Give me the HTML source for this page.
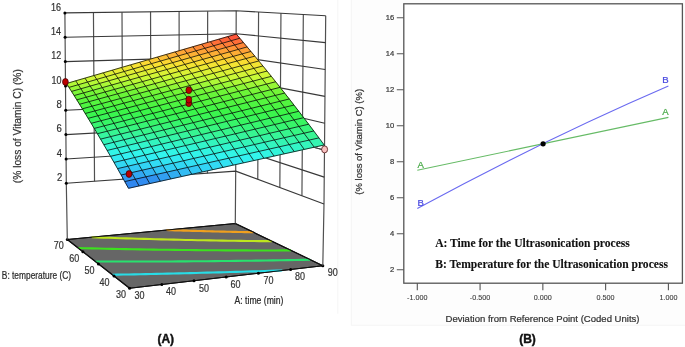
<!DOCTYPE html>
<html><head><meta charset="utf-8"><style>
html,body{margin:0;padding:0;background:#fff;}
body{width:685px;height:347px;position:relative;overflow:hidden;font-family:"Liberation Sans",sans-serif;}
</style></head><body>
<svg width="685" height="347" viewBox="0 0 685 347" style="position:absolute;left:0;top:0;will-change:transform">
<path d="M337.8,0 V313.8" stroke="#f6f6f6" stroke-width="1"/>
<rect x="351.3" y="-1" width="335" height="326.3" fill="#fdfdfd" stroke="#f5f5f5" stroke-width="1"/>
<polygon points="67.3,239.5 235.3,223.5 322.8,265.7 129.6,288.3" fill="#666666" stroke="#111" stroke-width="1.1" stroke-linejoin="round"/>
<path d="M112.31,274.76 L117.8,274.66 L123.3,274.56 L128.81,274.46 L134.33,274.35 L139.86,274.24 L145.41,274.13 L150.97,274.01 L156.54,273.89 L162.13,273.77 L167.72,273.64 L173.33,273.51 L178.95,273.38 L184.59,273.24 L190.23,273.11 L195.89,272.96 L201.56,272.82 L207.24,272.67 L212.94,272.52 L218.64,272.36 L224.36,272.2 L230.09,272.04 L235.84,271.88 L241.59,271.71 L247.36,271.54 L253.14,271.37 L258.93,271.19 L264.74,271.01 L270.56,270.82 L276.39,270.64 L282.23,270.45" fill="none" stroke="#28dce6" stroke-width="2.1"/>
<path d="M95.34,261.46 L102.17,261.49 L109.03,261.51 L115.91,261.52 L122.81,261.53 L129.74,261.54 L136.69,261.54 L143.66,261.53 L150.66,261.51 L157.68,261.49 L164.72,261.47 L171.78,261.43 L178.87,261.4 L185.98,261.35 L193.11,261.3 L200.27,261.25 L207.44,261.18 L214.64,261.12 L221.87,261.04 L229.11,260.96 L236.38,260.88 L243.68,260.78 L250.99,260.69 L258.33,260.58 L265.69,260.47 L273.07,260.36 L280.48,260.23 L287.91,260.11 L295.36,259.97 L302.83,259.83 L310.33,259.69" fill="none" stroke="#28e16e" stroke-width="2.1"/>
<path d="M78.2,248.04 L84.92,248.22 L91.67,248.39 L98.44,248.55 L105.24,248.71 L112.06,248.86 L118.91,249 L125.79,249.14 L132.69,249.27 L139.62,249.39 L146.57,249.51 L153.55,249.62 L160.56,249.72 L167.59,249.81 L174.65,249.9 L181.73,249.98 L188.84,250.06 L195.97,250.13 L203.13,250.19 L210.32,250.25 L217.53,250.29 L224.77,250.33 L232.03,250.37 L239.32,250.4 L246.64,250.42 L253.98,250.43 L261.35,250.44 L268.74,250.44 L276.16,250.43 L283.61,250.42 L291.08,250.4" fill="none" stroke="#3ce11e" stroke-width="2.1"/>
<path d="M91.66,237.18 L97.38,237.39 L103.12,237.6 L108.88,237.8 L114.67,237.99 L120.47,238.18 L126.29,238.37 L132.13,238.55 L137.99,238.72 L143.88,238.89 L149.78,239.05 L155.7,239.21 L161.64,239.37 L167.61,239.51 L173.59,239.66 L179.59,239.79 L185.62,239.93 L191.66,240.05 L197.72,240.18 L203.81,240.29 L209.91,240.4 L216.03,240.51 L222.18,240.61 L228.34,240.7 L234.52,240.79 L240.73,240.88 L246.95,240.96 L253.2,241.03 L259.46,241.1 L265.75,241.17 L272.05,241.22" fill="none" stroke="#bee61e" stroke-width="2.1"/>
<path d="M166.42,230.06 L169.25,230.15 L172.09,230.24 L174.93,230.33 L177.78,230.42 L180.63,230.5 L183.48,230.59 L186.34,230.67 L189.21,230.76 L192.08,230.84 L194.96,230.92 L197.84,231 L200.72,231.07 L203.61,231.15 L206.5,231.22 L209.4,231.3 L212.31,231.37 L215.21,231.44 L218.13,231.51 L221.05,231.58 L223.97,231.65 L226.9,231.72 L229.83,231.78 L232.76,231.84 L235.71,231.91 L238.65,231.97 L241.6,232.03 L244.56,232.09 L247.52,232.15 L250.49,232.2 L253.46,232.26" fill="none" stroke="#f0a01e" stroke-width="2.1"/>
<polygon points="67.3,239.5 235.3,223.5 322.8,265.7 129.6,288.3" fill="none" stroke="#111" stroke-width="1.1" stroke-linejoin="round"/>
<circle cx="129.6" cy="288.3" r="1.5" fill="#000"/>
<circle cx="161.8" cy="284.53" r="1.5" fill="#000"/>
<circle cx="194" cy="280.77" r="1.5" fill="#000"/>
<circle cx="226.2" cy="277" r="1.5" fill="#000"/>
<circle cx="258.4" cy="273.23" r="1.5" fill="#000"/>
<circle cx="290.6" cy="269.47" r="1.5" fill="#000"/>
<circle cx="322.8" cy="265.7" r="1.5" fill="#000"/>
<circle cx="114.02" cy="276.1" r="1.5" fill="#000"/>
<circle cx="98.45" cy="263.9" r="1.5" fill="#000"/>
<circle cx="82.88" cy="251.7" r="1.5" fill="#000"/>
<circle cx="67.3" cy="239.5" r="1.5" fill="#000"/>
<path d="M64.9,12.9 L66.3,183.3 M93.45,12.55 L94.53,181.27 M122,12.2 L122.77,179.23 M150.55,11.85 L151,177.2 M179.1,11.5 L179.23,175.17 M207.65,11.15 L207.47,173.13 M236.2,10.8 L235.7,171.1 M325.7,15.7 L324,204 M303.32,14.47 L301.93,195.78 M280.95,13.25 L279.85,187.55 M258.57,12.03 L257.77,179.32 M66.3,183.3 L67.3,239.5 M235.7,171.1 L235.3,223.5 M324,204 L322.8,265.7" fill="none" stroke="#505050" stroke-width="1.2"/>
<path d="M66.3,183.3 L235.7,171.1 M66.1,158.96 L235.77,148.2 M65.9,134.61 L235.84,125.3 M65.7,110.27 L235.91,102.4 M65.5,85.93 L235.99,79.5 M65.3,61.59 L236.06,56.6 M65.1,37.24 L236.13,33.7 M64.9,12.9 L236.2,10.8 M235.7,171.1 L324,204 M235.77,148.2 L324.24,177.1 M235.84,125.3 L324.49,150.2 M235.91,102.4 L324.73,123.3 M235.99,79.5 L324.97,96.4 M236.06,56.6 L325.21,69.5 M236.13,33.7 L325.46,42.6 M236.2,10.8 L325.7,15.7" fill="none" stroke="#383838" stroke-width="1.15"/>
<circle cx="66.3" cy="183.3" r="1.5" fill="#000"/>
<circle cx="66.1" cy="158.96" r="1.5" fill="#000"/>
<circle cx="65.9" cy="134.61" r="1.5" fill="#000"/>
<circle cx="65.7" cy="110.27" r="1.5" fill="#000"/>
<circle cx="65.5" cy="85.93" r="1.5" fill="#000"/>
<circle cx="65.3" cy="61.59" r="1.5" fill="#000"/>
<circle cx="65.1" cy="37.24" r="1.5" fill="#000"/>
<circle cx="64.9" cy="12.9" r="1.5" fill="#000"/>
<g stroke-width="0.6" stroke-linejoin="round"><polygon points="66.5,83.5 75.74,80.81 78.28,84.71 68.98,87.39" fill="rgb(179, 249, 55)" stroke="rgb(179, 249, 55)"/><polygon points="68.98,87.39 78.28,84.71 80.89,88.75 71.53,91.41" fill="rgb(152, 247, 55)" stroke="rgb(152, 247, 55)"/><polygon points="71.53,91.41 80.89,88.75 83.56,92.91 74.14,95.56" fill="rgb(124, 246, 55)" stroke="rgb(124, 246, 55)"/><polygon points="74.14,95.56 83.56,92.91 86.3,97.2 76.82,99.84" fill="rgb(104, 245, 57)" stroke="rgb(104, 245, 57)"/><polygon points="76.82,99.84 86.3,97.2 89.11,101.63 79.56,104.25" fill="rgb(91, 245, 61)" stroke="rgb(91, 245, 61)"/><polygon points="79.56,104.25 89.11,101.63 91.98,106.2 82.37,108.81" fill="rgb(78, 245, 65)" stroke="rgb(78, 245, 65)"/><polygon points="82.37,108.81 91.98,106.2 94.92,110.91 85.25,113.5" fill="rgb(65, 245, 69)" stroke="rgb(65, 245, 69)"/><polygon points="85.25,113.5 94.92,110.91 97.92,115.76 88.18,118.33" fill="rgb(58, 245, 79)" stroke="rgb(58, 245, 79)"/><polygon points="88.18,118.33 97.92,115.76 100.99,120.75 91.19,123.31" fill="rgb(56, 245, 93)" stroke="rgb(56, 245, 93)"/><polygon points="91.19,123.31 100.99,120.75 104.13,125.89 94.25,128.43" fill="rgb(55, 245, 112)" stroke="rgb(55, 245, 112)"/><polygon points="94.25,128.43 104.13,125.89 107.33,131.18 97.39,133.71" fill="rgb(55, 245, 135)" stroke="rgb(55, 245, 135)"/><polygon points="97.39,133.71 107.33,131.18 110.6,136.62 100.58,139.13" fill="rgb(54, 245, 159)" stroke="rgb(54, 245, 159)"/><polygon points="100.58,139.13 110.6,136.62 113.94,142.22 103.85,144.71" fill="rgb(52, 245, 184)" stroke="rgb(52, 245, 184)"/><polygon points="103.85,144.71 113.94,142.22 117.34,147.97 107.17,150.44" fill="rgb(50, 245, 210)" stroke="rgb(50, 245, 210)"/><polygon points="107.17,150.44 117.34,147.97 120.81,153.89 110.56,156.34" fill="rgb(50, 245, 232)" stroke="rgb(50, 245, 232)"/><polygon points="110.56,156.34 120.81,153.89 124.35,159.96 114.02,162.4" fill="rgb(50, 234, 242)" stroke="rgb(50, 234, 242)"/><polygon points="114.02,162.4 124.35,159.96 127.95,166.2 117.54,168.62" fill="rgb(50, 216, 244)" stroke="rgb(50, 216, 244)"/><polygon points="117.54,168.62 127.95,166.2 131.62,172.61 121.13,175.01" fill="rgb(50, 188, 243)" stroke="rgb(50, 188, 243)"/><polygon points="121.13,175.01 131.62,172.61 135.35,179.19 124.78,181.57" fill="rgb(50, 154, 241)" stroke="rgb(50, 154, 241)"/><polygon points="124.78,181.57 135.35,179.19 139.15,185.94 128.5,188.3" fill="rgb(47, 135, 240)" stroke="rgb(47, 135, 240)"/><polygon points="75.74,80.81 84.95,78.13 87.55,82.05 78.28,84.71" fill="rgb(194, 250, 55)" stroke="rgb(194, 250, 55)"/><polygon points="78.28,84.71 87.55,82.05 90.21,86.09 80.89,88.75" fill="rgb(167, 248, 55)" stroke="rgb(167, 248, 55)"/><polygon points="80.89,88.75 90.21,86.09 92.94,90.27 83.56,92.91" fill="rgb(140, 247, 55)" stroke="rgb(140, 247, 55)"/><polygon points="83.56,92.91 92.94,90.27 95.74,94.58 86.3,97.2" fill="rgb(112, 245, 55)" stroke="rgb(112, 245, 55)"/><polygon points="86.3,97.2 95.74,94.58 98.61,99.02 89.11,101.63" fill="rgb(98, 245, 59)" stroke="rgb(98, 245, 59)"/><polygon points="89.11,101.63 98.61,99.02 101.55,103.61 91.98,106.2" fill="rgb(85, 245, 63)" stroke="rgb(85, 245, 63)"/><polygon points="91.98,106.2 101.55,103.61 104.55,108.33 94.92,110.91" fill="rgb(72, 245, 67)" stroke="rgb(72, 245, 67)"/><polygon points="94.92,110.91 104.55,108.33 107.62,113.19 97.92,115.76" fill="rgb(60, 245, 72)" stroke="rgb(60, 245, 72)"/><polygon points="97.92,115.76 107.62,113.19 110.76,118.2 100.99,120.75" fill="rgb(57, 245, 86)" stroke="rgb(57, 245, 86)"/><polygon points="100.99,120.75 110.76,118.2 113.97,123.36 104.13,125.89" fill="rgb(55, 245, 102)" stroke="rgb(55, 245, 102)"/><polygon points="104.13,125.89 113.97,123.36 117.24,128.67 107.33,131.18" fill="rgb(55, 245, 124)" stroke="rgb(55, 245, 124)"/><polygon points="107.33,131.18 117.24,128.67 120.58,134.13 110.6,136.62" fill="rgb(55, 245, 147)" stroke="rgb(55, 245, 147)"/><polygon points="110.6,136.62 120.58,134.13 123.99,139.74 113.94,142.22" fill="rgb(53, 245, 173)" stroke="rgb(53, 245, 173)"/><polygon points="113.94,142.22 123.99,139.74 127.47,145.51 117.34,147.97" fill="rgb(51, 245, 199)" stroke="rgb(51, 245, 199)"/><polygon points="117.34,147.97 127.47,145.51 131.02,151.44 120.81,153.89" fill="rgb(50, 245, 222)" stroke="rgb(50, 245, 222)"/><polygon points="120.81,153.89 131.02,151.44 134.63,157.53 124.35,159.96" fill="rgb(50, 241, 241)" stroke="rgb(50, 241, 241)"/><polygon points="124.35,159.96 134.63,157.53 138.32,163.79 127.95,166.2" fill="rgb(50, 224, 243)" stroke="rgb(50, 224, 243)"/><polygon points="127.95,166.2 138.32,163.79 142.07,170.22 131.62,172.61" fill="rgb(50, 202, 244)" stroke="rgb(50, 202, 244)"/><polygon points="131.62,172.61 142.07,170.22 145.88,176.82 135.35,179.19" fill="rgb(50, 168, 242)" stroke="rgb(50, 168, 242)"/><polygon points="135.35,179.19 145.88,176.82 149.77,183.59 139.15,185.94" fill="rgb(49, 140, 240)" stroke="rgb(49, 140, 240)"/><polygon points="84.95,78.13 94.13,75.46 96.78,79.39 87.55,82.05" fill="rgb(205, 247, 54)" stroke="rgb(205, 247, 54)"/><polygon points="87.55,82.05 96.78,79.39 99.5,83.45 90.21,86.09" fill="rgb(183, 249, 55)" stroke="rgb(183, 249, 55)"/><polygon points="90.21,86.09 99.5,83.45 102.29,87.64 92.94,90.27" fill="rgb(155, 248, 55)" stroke="rgb(155, 248, 55)"/><polygon points="92.94,90.27 102.29,87.64 105.15,91.96 95.74,94.58" fill="rgb(127, 246, 55)" stroke="rgb(127, 246, 55)"/><polygon points="95.74,94.58 105.15,91.96 108.08,96.42 98.61,99.02" fill="rgb(105, 245, 57)" stroke="rgb(105, 245, 57)"/><polygon points="98.61,99.02 108.08,96.42 111.08,101.02 101.55,103.61" fill="rgb(92, 245, 60)" stroke="rgb(92, 245, 60)"/><polygon points="101.55,103.61 111.08,101.02 114.15,105.76 104.55,108.33" fill="rgb(78, 245, 64)" stroke="rgb(78, 245, 64)"/><polygon points="104.55,108.33 114.15,105.76 117.29,110.64 107.62,113.19" fill="rgb(65, 245, 69)" stroke="rgb(65, 245, 69)"/><polygon points="107.62,113.19 117.29,110.64 120.49,115.67 110.76,118.2" fill="rgb(58, 245, 79)" stroke="rgb(58, 245, 79)"/><polygon points="110.76,118.2 120.49,115.67 123.77,120.84 113.97,123.36" fill="rgb(56, 245, 94)" stroke="rgb(56, 245, 94)"/><polygon points="113.97,123.36 123.77,120.84 127.11,126.16 117.24,128.67" fill="rgb(55, 245, 114)" stroke="rgb(55, 245, 114)"/><polygon points="117.24,128.67 127.11,126.16 130.53,131.64 120.58,134.13" fill="rgb(55, 245, 137)" stroke="rgb(55, 245, 137)"/><polygon points="120.58,134.13 130.53,131.64 134.01,137.27 123.99,139.74" fill="rgb(54, 245, 161)" stroke="rgb(54, 245, 161)"/><polygon points="123.99,139.74 134.01,137.27 137.57,143.06 127.47,145.51" fill="rgb(52, 245, 187)" stroke="rgb(52, 245, 187)"/><polygon points="127.47,145.51 137.57,143.06 141.19,149.01 131.02,151.44" fill="rgb(50, 245, 213)" stroke="rgb(50, 245, 213)"/><polygon points="131.02,151.44 141.19,149.01 144.88,155.12 134.63,157.53" fill="rgb(50, 245, 235)" stroke="rgb(50, 245, 235)"/><polygon points="134.63,157.53 144.88,155.12 148.64,161.4 138.32,163.79" fill="rgb(50, 231, 242)" stroke="rgb(50, 231, 242)"/><polygon points="138.32,163.79 148.64,161.4 152.47,167.84 142.07,170.22" fill="rgb(50, 213, 245)" stroke="rgb(50, 213, 245)"/><polygon points="142.07,170.22 152.47,167.84 156.37,174.46 145.88,176.82" fill="rgb(50, 181, 243)" stroke="rgb(50, 181, 243)"/><polygon points="145.88,176.82 156.37,174.46 160.34,181.25 149.77,183.59" fill="rgb(50, 147, 240)" stroke="rgb(50, 147, 240)"/><polygon points="94.13,75.46 103.27,72.8 105.98,76.74 96.78,79.39" fill="rgb(214, 243, 54)" stroke="rgb(214, 243, 54)"/><polygon points="96.78,79.39 105.98,76.74 108.76,80.82 99.5,83.45" fill="rgb(198, 250, 55)" stroke="rgb(198, 250, 55)"/><polygon points="99.5,83.45 108.76,80.82 111.61,85.02 102.29,87.64" fill="rgb(171, 248, 55)" stroke="rgb(171, 248, 55)"/><polygon points="102.29,87.64 111.61,85.02 114.53,89.36 105.15,91.96" fill="rgb(143, 247, 55)" stroke="rgb(143, 247, 55)"/><polygon points="105.15,91.96 114.53,89.36 117.52,93.83 108.08,96.42" fill="rgb(114, 245, 55)" stroke="rgb(114, 245, 55)"/><polygon points="108.08,96.42 117.52,93.83 120.58,98.45 111.08,101.02" fill="rgb(99, 245, 58)" stroke="rgb(99, 245, 58)"/><polygon points="111.08,101.02 120.58,98.45 123.71,103.2 114.15,105.76" fill="rgb(85, 245, 62)" stroke="rgb(85, 245, 62)"/><polygon points="114.15,105.76 123.71,103.2 126.92,108.1 117.29,110.64" fill="rgb(72, 245, 67)" stroke="rgb(72, 245, 67)"/><polygon points="117.29,110.64 126.92,108.1 130.19,113.14 120.49,115.67" fill="rgb(60, 245, 72)" stroke="rgb(60, 245, 72)"/><polygon points="120.49,115.67 130.19,113.14 133.53,118.33 123.77,120.84" fill="rgb(57, 245, 87)" stroke="rgb(57, 245, 87)"/><polygon points="123.77,120.84 133.53,118.33 136.95,123.67 127.11,126.16" fill="rgb(55, 245, 103)" stroke="rgb(55, 245, 103)"/><polygon points="127.11,126.16 136.95,123.67 140.44,129.16 130.53,131.64" fill="rgb(55, 245, 126)" stroke="rgb(55, 245, 126)"/><polygon points="130.53,131.64 140.44,129.16 143.99,134.81 134.01,137.27" fill="rgb(55, 245, 150)" stroke="rgb(55, 245, 150)"/><polygon points="134.01,137.27 143.99,134.81 147.62,140.61 137.57,143.06" fill="rgb(53, 245, 176)" stroke="rgb(53, 245, 176)"/><polygon points="137.57,143.06 147.62,140.61 151.32,146.58 141.19,149.01" fill="rgb(50, 245, 203)" stroke="rgb(50, 245, 203)"/><polygon points="141.19,149.01 151.32,146.58 155.09,152.71 144.88,155.12" fill="rgb(50, 245, 226)" stroke="rgb(50, 245, 226)"/><polygon points="144.88,155.12 155.09,152.71 158.93,159.01 148.64,161.4" fill="rgb(50, 238, 241)" stroke="rgb(50, 238, 241)"/><polygon points="148.64,161.4 158.93,159.01 162.84,165.47 152.47,167.84" fill="rgb(50, 220, 244)" stroke="rgb(50, 220, 244)"/><polygon points="152.47,167.84 162.84,165.47 166.83,172.11 156.37,174.46" fill="rgb(50, 195, 244)" stroke="rgb(50, 195, 244)"/><polygon points="156.37,174.46 166.83,172.11 170.88,178.92 160.34,181.25" fill="rgb(50, 160, 241)" stroke="rgb(50, 160, 241)"/><polygon points="103.27,72.8 112.38,70.15 115.14,74.11 105.98,76.74" fill="rgb(223, 239, 53)" stroke="rgb(223, 239, 53)"/><polygon points="105.98,76.74 115.14,74.11 117.98,78.19 108.76,80.82" fill="rgb(208, 246, 54)" stroke="rgb(208, 246, 54)"/><polygon points="108.76,80.82 117.98,78.19 120.89,82.41 111.61,85.02" fill="rgb(186, 249, 55)" stroke="rgb(186, 249, 55)"/><polygon points="111.61,85.02 120.89,82.41 123.87,86.76 114.53,89.36" fill="rgb(158, 248, 55)" stroke="rgb(158, 248, 55)"/><polygon points="114.53,89.36 123.87,86.76 126.92,91.25 117.52,93.83" fill="rgb(129, 246, 55)" stroke="rgb(129, 246, 55)"/><polygon points="117.52,93.83 126.92,91.25 130.04,95.88 120.58,98.45" fill="rgb(105, 245, 56)" stroke="rgb(105, 245, 56)"/><polygon points="120.58,98.45 130.04,95.88 133.24,100.65 123.71,103.2" fill="rgb(92, 245, 60)" stroke="rgb(92, 245, 60)"/><polygon points="123.71,103.2 133.24,100.65 136.51,105.56 126.92,108.1" fill="rgb(78, 245, 64)" stroke="rgb(78, 245, 64)"/><polygon points="126.92,108.1 136.51,105.56 139.85,110.62 130.19,113.14" fill="rgb(64, 245, 69)" stroke="rgb(64, 245, 69)"/><polygon points="130.19,113.14 139.85,110.62 143.26,115.82 133.53,118.33" fill="rgb(58, 245, 80)" stroke="rgb(58, 245, 80)"/><polygon points="133.53,118.33 143.26,115.82 146.75,121.18 136.95,123.67" fill="rgb(56, 245, 95)" stroke="rgb(56, 245, 95)"/><polygon points="136.95,123.67 146.75,121.18 150.31,126.69 140.44,129.16" fill="rgb(55, 245, 116)" stroke="rgb(55, 245, 116)"/><polygon points="140.44,129.16 150.31,126.69 153.94,132.35 143.99,134.81" fill="rgb(55, 245, 139)" stroke="rgb(55, 245, 139)"/><polygon points="143.99,134.81 153.94,132.35 157.64,138.18 147.62,140.61" fill="rgb(54, 245, 165)" stroke="rgb(54, 245, 165)"/><polygon points="147.62,140.61 157.64,138.18 161.42,144.16 151.32,146.58" fill="rgb(51, 245, 191)" stroke="rgb(51, 245, 191)"/><polygon points="151.32,146.58 161.42,144.16 165.26,150.31 155.09,152.71" fill="rgb(50, 245, 216)" stroke="rgb(50, 245, 216)"/><polygon points="155.09,152.71 165.26,150.31 169.18,156.63 158.93,159.01" fill="rgb(50, 245, 239)" stroke="rgb(50, 245, 239)"/><polygon points="158.93,159.01 169.18,156.63 173.18,163.11 162.84,165.47" fill="rgb(50, 228, 242)" stroke="rgb(50, 228, 242)"/><polygon points="162.84,165.47 173.18,163.11 177.24,169.77 166.83,172.11" fill="rgb(50, 208, 245)" stroke="rgb(50, 208, 245)"/><polygon points="166.83,172.11 177.24,169.77 181.38,176.6 170.88,178.92" fill="rgb(50, 174, 242)" stroke="rgb(50, 174, 242)"/><polygon points="112.38,70.15 121.45,67.51 124.27,71.48 115.14,74.11" fill="rgb(231, 234, 52)" stroke="rgb(231, 234, 52)"/><polygon points="115.14,74.11 124.27,71.48 127.16,75.58 117.98,78.19" fill="rgb(216, 242, 53)" stroke="rgb(216, 242, 53)"/><polygon points="117.98,78.19 127.16,75.58 130.13,79.81 120.89,82.41" fill="rgb(201, 250, 55)" stroke="rgb(201, 250, 55)"/><polygon points="120.89,82.41 130.13,79.81 133.17,84.18 123.87,86.76" fill="rgb(173, 249, 55)" stroke="rgb(173, 249, 55)"/><polygon points="123.87,86.76 133.17,84.18 136.28,88.68 126.92,91.25" fill="rgb(144, 247, 55)" stroke="rgb(144, 247, 55)"/><polygon points="126.92,91.25 136.28,88.68 139.47,93.32 130.04,95.88" fill="rgb(115, 245, 55)" stroke="rgb(115, 245, 55)"/><polygon points="130.04,95.88 139.47,93.32 142.73,98.11 133.24,100.65" fill="rgb(99, 245, 58)" stroke="rgb(99, 245, 58)"/><polygon points="133.24,100.65 142.73,98.11 146.07,103.03 136.51,105.56" fill="rgb(85, 245, 62)" stroke="rgb(85, 245, 62)"/><polygon points="136.51,105.56 146.07,103.03 149.47,108.11 139.85,110.62" fill="rgb(71, 245, 67)" stroke="rgb(71, 245, 67)"/><polygon points="139.85,110.62 149.47,108.11 152.96,113.33 143.26,115.82" fill="rgb(59, 245, 73)" stroke="rgb(59, 245, 73)"/><polygon points="143.26,115.82 152.96,113.33 156.51,118.7 146.75,121.18" fill="rgb(57, 245, 88)" stroke="rgb(57, 245, 88)"/><polygon points="146.75,121.18 156.51,118.7 160.14,124.23 150.31,126.69" fill="rgb(55, 245, 105)" stroke="rgb(55, 245, 105)"/><polygon points="150.31,126.69 160.14,124.23 163.85,129.91 153.94,132.35" fill="rgb(55, 245, 129)" stroke="rgb(55, 245, 129)"/><polygon points="153.94,132.35 163.85,129.91 167.62,135.75 157.64,138.18" fill="rgb(55, 245, 153)" stroke="rgb(55, 245, 153)"/><polygon points="157.64,138.18 167.62,135.75 171.47,141.75 161.42,144.16" fill="rgb(52, 245, 180)" stroke="rgb(52, 245, 180)"/><polygon points="161.42,144.16 171.47,141.75 175.4,147.92 165.26,150.31" fill="rgb(50, 245, 207)" stroke="rgb(50, 245, 207)"/><polygon points="165.26,150.31 175.4,147.92 179.4,154.26 169.18,156.63" fill="rgb(50, 245, 230)" stroke="rgb(50, 245, 230)"/><polygon points="169.18,156.63 179.4,154.26 183.47,160.76 173.18,163.11" fill="rgb(50, 235, 241)" stroke="rgb(50, 235, 241)"/><polygon points="173.18,163.11 183.47,160.76 187.61,167.43 177.24,169.77" fill="rgb(50, 216, 244)" stroke="rgb(50, 216, 244)"/><polygon points="177.24,169.77 187.61,167.43 191.83,174.29 181.38,176.6" fill="rgb(50, 187, 243)" stroke="rgb(50, 187, 243)"/><polygon points="121.45,67.51 130.49,64.88 133.36,68.86 124.27,71.48" fill="rgb(239, 230, 51)" stroke="rgb(239, 230, 51)"/><polygon points="124.27,71.48 133.36,68.86 136.31,72.98 127.16,75.58" fill="rgb(225, 238, 53)" stroke="rgb(225, 238, 53)"/><polygon points="127.16,75.58 136.31,72.98 139.34,77.22 130.13,79.81" fill="rgb(209, 245, 54)" stroke="rgb(209, 245, 54)"/><polygon points="130.13,79.81 139.34,77.22 142.44,81.6 133.17,84.18" fill="rgb(188, 249, 55)" stroke="rgb(188, 249, 55)"/><polygon points="133.17,84.18 142.44,81.6 145.61,86.12 136.28,88.68" fill="rgb(160, 248, 55)" stroke="rgb(160, 248, 55)"/><polygon points="136.28,88.68 145.61,86.12 148.86,90.78 139.47,93.32" fill="rgb(130, 246, 55)" stroke="rgb(130, 246, 55)"/><polygon points="139.47,93.32 148.86,90.78 152.19,95.58 142.73,98.11" fill="rgb(105, 245, 56)" stroke="rgb(105, 245, 56)"/><polygon points="142.73,98.11 152.19,95.58 155.59,100.52 146.07,103.03" fill="rgb(92, 245, 60)" stroke="rgb(92, 245, 60)"/><polygon points="146.07,103.03 155.59,100.52 159.06,105.61 149.47,108.11" fill="rgb(78, 245, 65)" stroke="rgb(78, 245, 65)"/><polygon points="149.47,108.11 159.06,105.61 162.61,110.85 152.96,113.33" fill="rgb(64, 245, 69)" stroke="rgb(64, 245, 69)"/><polygon points="152.96,113.33 162.61,110.85 166.24,116.23 156.51,118.7" fill="rgb(58, 245, 81)" stroke="rgb(58, 245, 81)"/><polygon points="156.51,118.7 166.24,116.23 169.94,121.78 160.14,124.23" fill="rgb(56, 245, 97)" stroke="rgb(56, 245, 97)"/><polygon points="160.14,124.23 169.94,121.78 173.72,127.48 163.85,129.91" fill="rgb(55, 245, 118)" stroke="rgb(55, 245, 118)"/><polygon points="163.85,129.91 173.72,127.48 177.57,133.34 167.62,135.75" fill="rgb(55, 245, 142)" stroke="rgb(55, 245, 142)"/><polygon points="167.62,135.75 177.57,133.34 181.49,139.36 171.47,141.75" fill="rgb(53, 245, 168)" stroke="rgb(53, 245, 168)"/><polygon points="171.47,141.75 181.49,139.36 185.49,145.54 175.4,147.92" fill="rgb(51, 245, 196)" stroke="rgb(51, 245, 196)"/><polygon points="175.4,147.92 185.49,145.54 189.57,151.89 179.4,154.26" fill="rgb(50, 245, 220)" stroke="rgb(50, 245, 220)"/><polygon points="179.4,154.26 189.57,151.89 193.72,158.42 183.47,160.76" fill="rgb(50, 242, 240)" stroke="rgb(50, 242, 240)"/><polygon points="183.47,160.76 193.72,158.42 197.95,165.11 187.61,167.43" fill="rgb(50, 224, 243)" stroke="rgb(50, 224, 243)"/><polygon points="187.61,167.43 197.95,165.11 202.25,171.98 191.83,174.29" fill="rgb(50, 200, 244)" stroke="rgb(50, 200, 244)"/><polygon points="130.49,64.88 139.5,62.26 142.42,66.26 133.36,68.86" fill="rgb(248, 226, 50)" stroke="rgb(248, 226, 50)"/><polygon points="133.36,68.86 142.42,66.26 145.43,70.38 136.31,72.98" fill="rgb(233, 233, 52)" stroke="rgb(233, 233, 52)"/><polygon points="136.31,72.98 145.43,70.38 148.51,74.64 139.34,77.22" fill="rgb(218, 241, 53)" stroke="rgb(218, 241, 53)"/><polygon points="139.34,77.22 148.51,74.64 151.67,79.04 142.44,81.6" fill="rgb(202, 249, 55)" stroke="rgb(202, 249, 55)"/><polygon points="142.44,81.6 151.67,79.04 154.91,83.57 145.61,86.12" fill="rgb(175, 249, 55)" stroke="rgb(175, 249, 55)"/><polygon points="145.61,86.12 154.91,83.57 158.22,88.24 148.86,90.78" fill="rgb(145, 247, 55)" stroke="rgb(145, 247, 55)"/><polygon points="148.86,90.78 158.22,88.24 161.61,93.05 152.19,95.58" fill="rgb(115, 245, 55)" stroke="rgb(115, 245, 55)"/><polygon points="152.19,95.58 161.61,93.05 165.07,98.01 155.59,100.52" fill="rgb(98, 245, 58)" stroke="rgb(98, 245, 58)"/><polygon points="155.59,100.52 165.07,98.01 168.61,103.12 159.06,105.61" fill="rgb(85, 245, 63)" stroke="rgb(85, 245, 63)"/><polygon points="159.06,105.61 168.61,103.12 172.23,108.37 162.61,110.85" fill="rgb(70, 245, 67)" stroke="rgb(70, 245, 67)"/><polygon points="162.61,110.85 172.23,108.37 175.93,113.78 166.24,116.23" fill="rgb(59, 245, 74)" stroke="rgb(59, 245, 74)"/><polygon points="166.24,116.23 175.93,113.78 179.7,119.34 169.94,121.78" fill="rgb(57, 245, 90)" stroke="rgb(57, 245, 90)"/><polygon points="169.94,121.78 179.7,119.34 183.55,125.05 173.72,127.48" fill="rgb(55, 245, 108)" stroke="rgb(55, 245, 108)"/><polygon points="173.72,127.48 183.55,125.05 187.47,130.93 177.57,133.34" fill="rgb(55, 245, 132)" stroke="rgb(55, 245, 132)"/><polygon points="177.57,133.34 187.47,130.93 191.47,136.97 181.49,139.36" fill="rgb(54, 245, 157)" stroke="rgb(54, 245, 157)"/><polygon points="181.49,139.36 191.47,136.97 195.55,143.17 185.49,145.54" fill="rgb(52, 245, 184)" stroke="rgb(52, 245, 184)"/><polygon points="185.49,145.54 195.55,143.17 199.71,149.54 189.57,151.89" fill="rgb(50, 245, 211)" stroke="rgb(50, 245, 211)"/><polygon points="189.57,151.89 199.71,149.54 203.94,156.08 193.72,158.42" fill="rgb(50, 245, 234)" stroke="rgb(50, 245, 234)"/><polygon points="193.72,158.42 203.94,156.08 208.25,162.79 197.95,165.11" fill="rgb(50, 231, 242)" stroke="rgb(50, 231, 242)"/><polygon points="197.95,165.11 208.25,162.79 212.63,169.69 202.25,171.98" fill="rgb(50, 212, 245)" stroke="rgb(50, 212, 245)"/><polygon points="139.5,62.26 148.47,59.65 151.45,63.66 142.42,66.26" fill="rgb(251, 216, 51)" stroke="rgb(251, 216, 51)"/><polygon points="142.42,66.26 151.45,63.66 154.51,67.8 145.43,70.38" fill="rgb(241, 229, 51)" stroke="rgb(241, 229, 51)"/><polygon points="145.43,70.38 154.51,67.8 157.65,72.07 148.51,74.64" fill="rgb(226, 237, 52)" stroke="rgb(226, 237, 52)"/><polygon points="148.51,74.64 157.65,72.07 160.87,76.48 151.67,79.04" fill="rgb(210, 245, 54)" stroke="rgb(210, 245, 54)"/><polygon points="151.67,79.04 160.87,76.48 164.17,81.03 154.91,83.57" fill="rgb(190, 249, 55)" stroke="rgb(190, 249, 55)"/><polygon points="154.91,83.57 164.17,81.03 167.54,85.71 158.22,88.24" fill="rgb(160, 248, 55)" stroke="rgb(160, 248, 55)"/><polygon points="158.22,88.24 167.54,85.71 170.99,90.54 161.61,93.05" fill="rgb(130, 246, 55)" stroke="rgb(130, 246, 55)"/><polygon points="161.61,93.05 170.99,90.54 174.52,95.51 165.07,98.01" fill="rgb(105, 245, 56)" stroke="rgb(105, 245, 56)"/><polygon points="165.07,98.01 174.52,95.51 178.13,100.64 168.61,103.12" fill="rgb(91, 245, 61)" stroke="rgb(91, 245, 61)"/><polygon points="168.61,103.12 178.13,100.64 181.82,105.9 172.23,108.37" fill="rgb(77, 245, 65)" stroke="rgb(77, 245, 65)"/><polygon points="172.23,108.37 181.82,105.9 185.58,111.33 175.93,113.78" fill="rgb(62, 245, 69)" stroke="rgb(62, 245, 69)"/><polygon points="175.93,113.78 185.58,111.33 189.42,116.9 179.7,119.34" fill="rgb(58, 245, 83)" stroke="rgb(58, 245, 83)"/><polygon points="179.7,119.34 189.42,116.9 193.34,122.64 183.55,125.05" fill="rgb(55, 245, 98)" stroke="rgb(55, 245, 98)"/><polygon points="183.55,125.05 193.34,122.64 197.34,128.53 187.47,130.93" fill="rgb(55, 245, 122)" stroke="rgb(55, 245, 122)"/><polygon points="187.47,130.93 197.34,128.53 201.42,134.58 191.47,136.97" fill="rgb(55, 245, 146)" stroke="rgb(55, 245, 146)"/><polygon points="191.47,136.97 201.42,134.58 205.57,140.81 195.55,143.17" fill="rgb(53, 245, 173)" stroke="rgb(53, 245, 173)"/><polygon points="195.55,143.17 205.57,140.81 209.8,147.19 199.71,149.54" fill="rgb(50, 245, 201)" stroke="rgb(50, 245, 201)"/><polygon points="199.71,149.54 209.8,147.19 214.11,153.75 203.94,156.08" fill="rgb(50, 245, 225)" stroke="rgb(50, 245, 225)"/><polygon points="203.94,156.08 214.11,153.75 218.5,160.49 208.25,162.79" fill="rgb(50, 238, 241)" stroke="rgb(50, 238, 241)"/><polygon points="208.25,162.79 218.5,160.49 222.97,167.4 212.63,169.69" fill="rgb(50, 219, 244)" stroke="rgb(50, 219, 244)"/><polygon points="148.47,59.65 157.4,57.05 160.44,61.07 151.45,63.66" fill="rgb(251, 203, 51)" stroke="rgb(251, 203, 51)"/><polygon points="151.45,63.66 160.44,61.07 163.56,65.23 154.51,67.8" fill="rgb(250, 225, 50)" stroke="rgb(250, 225, 50)"/><polygon points="154.51,67.8 163.56,65.23 166.76,69.51 157.65,72.07" fill="rgb(234, 233, 52)" stroke="rgb(234, 233, 52)"/><polygon points="157.65,72.07 166.76,69.51 170.03,73.93 160.87,76.48" fill="rgb(219, 241, 53)" stroke="rgb(219, 241, 53)"/><polygon points="160.87,76.48 170.03,73.93 173.39,78.49 164.17,81.03" fill="rgb(203, 249, 55)" stroke="rgb(203, 249, 55)"/><polygon points="164.17,81.03 173.39,78.49 176.83,83.2 167.54,85.71" fill="rgb(175, 249, 55)" stroke="rgb(175, 249, 55)"/><polygon points="167.54,85.71 176.83,83.2 180.34,88.04 170.99,90.54" fill="rgb(145, 247, 55)" stroke="rgb(145, 247, 55)"/><polygon points="170.99,90.54 180.34,88.04 183.94,93.03 174.52,95.51" fill="rgb(114, 245, 55)" stroke="rgb(114, 245, 55)"/><polygon points="174.52,95.51 183.94,93.03 187.61,98.16 178.13,100.64" fill="rgb(98, 245, 59)" stroke="rgb(98, 245, 59)"/><polygon points="178.13,100.64 187.61,98.16 191.36,103.45 181.82,105.9" fill="rgb(84, 245, 63)" stroke="rgb(84, 245, 63)"/><polygon points="181.82,105.9 191.36,103.45 195.2,108.89 185.58,111.33" fill="rgb(69, 245, 67)" stroke="rgb(69, 245, 67)"/><polygon points="185.58,111.33 195.2,108.89 199.11,114.48 189.42,116.9" fill="rgb(59, 245, 76)" stroke="rgb(59, 245, 76)"/><polygon points="189.42,116.9 199.11,114.48 203.1,120.23 193.34,122.64" fill="rgb(56, 245, 92)" stroke="rgb(56, 245, 92)"/><polygon points="193.34,122.64 203.1,120.23 207.17,126.14 197.34,128.53" fill="rgb(55, 245, 111)" stroke="rgb(55, 245, 111)"/><polygon points="197.34,128.53 207.17,126.14 211.32,132.21 201.42,134.58" fill="rgb(55, 245, 136)" stroke="rgb(55, 245, 136)"/><polygon points="201.42,134.58 211.32,132.21 215.55,138.45 205.57,140.81" fill="rgb(54, 245, 162)" stroke="rgb(54, 245, 162)"/><polygon points="205.57,140.81 215.55,138.45 219.86,144.86 209.8,147.19" fill="rgb(51, 245, 190)" stroke="rgb(51, 245, 190)"/><polygon points="209.8,147.19 219.86,144.86 224.25,151.44 214.11,153.75" fill="rgb(50, 245, 216)" stroke="rgb(50, 245, 216)"/><polygon points="214.11,153.75 224.25,151.44 228.72,158.19 218.5,160.49" fill="rgb(50, 245, 239)" stroke="rgb(50, 245, 239)"/><polygon points="218.5,160.49 228.72,158.19 233.27,165.12 222.97,167.4" fill="rgb(50, 227, 243)" stroke="rgb(50, 227, 243)"/><polygon points="157.4,57.05 166.31,54.46 169.4,58.5 160.44,61.07" fill="rgb(252, 190, 52)" stroke="rgb(252, 190, 52)"/><polygon points="160.44,61.07 169.4,58.5 172.57,62.66 163.56,65.23" fill="rgb(251, 213, 51)" stroke="rgb(251, 213, 51)"/><polygon points="163.56,65.23 172.57,62.66 175.83,66.96 166.76,69.51" fill="rgb(243, 229, 51)" stroke="rgb(243, 229, 51)"/><polygon points="166.76,69.51 175.83,66.96 179.16,71.4 170.03,73.93" fill="rgb(227, 236, 52)" stroke="rgb(227, 236, 52)"/><polygon points="170.03,73.93 179.16,71.4 182.58,75.97 173.39,78.49" fill="rgb(211, 244, 54)" stroke="rgb(211, 244, 54)"/><polygon points="173.39,78.49 182.58,75.97 186.08,80.69 176.83,83.2" fill="rgb(190, 249, 55)" stroke="rgb(190, 249, 55)"/><polygon points="176.83,83.2 186.08,80.69 189.65,85.55 180.34,88.04" fill="rgb(160, 248, 55)" stroke="rgb(160, 248, 55)"/><polygon points="180.34,88.04 189.65,85.55 193.31,90.55 183.94,93.03" fill="rgb(129, 246, 55)" stroke="rgb(129, 246, 55)"/><polygon points="183.94,93.03 193.31,90.55 197.05,95.7 187.61,98.16" fill="rgb(104, 245, 57)" stroke="rgb(104, 245, 57)"/><polygon points="187.61,98.16 197.05,95.7 200.87,101 191.36,103.45" fill="rgb(90, 245, 61)" stroke="rgb(90, 245, 61)"/><polygon points="191.36,103.45 200.87,101 204.78,106.46 195.2,108.89" fill="rgb(76, 245, 65)" stroke="rgb(76, 245, 65)"/><polygon points="195.2,108.89 204.78,106.46 208.76,112.07 199.11,114.48" fill="rgb(61, 245, 70)" stroke="rgb(61, 245, 70)"/><polygon points="199.11,114.48 208.76,112.07 212.82,117.83 203.1,120.23" fill="rgb(58, 245, 85)" stroke="rgb(58, 245, 85)"/><polygon points="203.1,120.23 212.82,117.83 216.97,123.76 207.17,126.14" fill="rgb(55, 245, 101)" stroke="rgb(55, 245, 101)"/><polygon points="207.17,126.14 216.97,123.76 221.19,129.85 211.32,132.21" fill="rgb(55, 245, 126)" stroke="rgb(55, 245, 126)"/><polygon points="211.32,132.21 221.19,129.85 225.5,136.11 215.55,138.45" fill="rgb(55, 245, 151)" stroke="rgb(55, 245, 151)"/><polygon points="215.55,138.45 225.5,136.11 229.88,142.53 219.86,144.86" fill="rgb(52, 245, 178)" stroke="rgb(52, 245, 178)"/><polygon points="219.86,144.86 229.88,142.53 234.35,149.13 224.25,151.44" fill="rgb(50, 245, 206)" stroke="rgb(50, 245, 206)"/><polygon points="224.25,151.44 234.35,149.13 238.9,155.9 228.72,158.19" fill="rgb(50, 245, 230)" stroke="rgb(50, 245, 230)"/><polygon points="228.72,158.19 238.9,155.9 243.53,162.85 233.27,165.12" fill="rgb(50, 234, 242)" stroke="rgb(50, 234, 242)"/><polygon points="166.31,54.46 175.18,51.88 178.32,55.93 169.4,58.5" fill="rgb(253, 178, 53)" stroke="rgb(253, 178, 53)"/><polygon points="169.4,58.5 178.32,55.93 181.55,60.11 172.57,62.66" fill="rgb(252, 200, 52)" stroke="rgb(252, 200, 52)"/><polygon points="172.57,62.66 181.55,60.11 184.86,64.42 175.83,66.96" fill="rgb(250, 223, 50)" stroke="rgb(250, 223, 50)"/><polygon points="175.83,66.96 184.86,64.42 188.26,68.87 179.16,71.4" fill="rgb(235, 232, 51)" stroke="rgb(235, 232, 51)"/><polygon points="179.16,71.4 188.26,68.87 191.73,73.46 182.58,75.97" fill="rgb(219, 240, 53)" stroke="rgb(219, 240, 53)"/><polygon points="182.58,75.97 191.73,73.46 195.29,78.19 186.08,80.69" fill="rgb(203, 249, 55)" stroke="rgb(203, 249, 55)"/><polygon points="186.08,80.69 195.29,78.19 198.93,83.06 189.65,85.55" fill="rgb(175, 249, 55)" stroke="rgb(175, 249, 55)"/><polygon points="189.65,85.55 198.93,83.06 202.66,88.08 193.31,90.55" fill="rgb(144, 247, 55)" stroke="rgb(144, 247, 55)"/><polygon points="193.31,90.55 202.66,88.08 206.46,93.25 197.05,95.7" fill="rgb(112, 245, 55)" stroke="rgb(112, 245, 55)"/><polygon points="197.05,95.7 206.46,93.25 210.35,98.56 200.87,101" fill="rgb(97, 245, 59)" stroke="rgb(97, 245, 59)"/><polygon points="200.87,101 210.35,98.56 214.32,104.03 204.78,106.46" fill="rgb(82, 245, 63)" stroke="rgb(82, 245, 63)"/><polygon points="204.78,106.46 214.32,104.03 218.37,109.66 208.76,112.07" fill="rgb(67, 245, 68)" stroke="rgb(67, 245, 68)"/><polygon points="208.76,112.07 218.37,109.66 222.51,115.44 212.82,117.83" fill="rgb(59, 245, 78)" stroke="rgb(59, 245, 78)"/><polygon points="212.82,117.83 222.51,115.44 226.72,121.39 216.97,123.76" fill="rgb(56, 245, 94)" stroke="rgb(56, 245, 94)"/><polygon points="216.97,123.76 226.72,121.39 231.02,127.5 221.19,129.85" fill="rgb(55, 245, 115)" stroke="rgb(55, 245, 115)"/><polygon points="221.19,129.85 231.02,127.5 235.4,133.77 225.5,136.11" fill="rgb(55, 245, 140)" stroke="rgb(55, 245, 140)"/><polygon points="225.5,136.11 235.4,133.77 239.87,140.21 229.88,142.53" fill="rgb(53, 245, 167)" stroke="rgb(53, 245, 167)"/><polygon points="229.88,142.53 239.87,140.21 244.41,146.83 234.35,149.13" fill="rgb(51, 245, 196)" stroke="rgb(51, 245, 196)"/><polygon points="234.35,149.13 244.41,146.83 249.04,153.62 238.9,155.9" fill="rgb(50, 245, 221)" stroke="rgb(50, 245, 221)"/><polygon points="238.9,155.9 249.04,153.62 253.75,160.59 243.53,162.85" fill="rgb(50, 241, 241)" stroke="rgb(50, 241, 241)"/><polygon points="175.18,51.88 184.01,49.31 187.21,53.37 178.32,55.93" fill="rgb(254, 166, 54)" stroke="rgb(254, 166, 54)"/><polygon points="178.32,55.93 187.21,53.37 190.5,57.56 181.55,60.11" fill="rgb(252, 188, 52)" stroke="rgb(252, 188, 52)"/><polygon points="181.55,60.11 190.5,57.56 193.86,61.89 184.86,64.42" fill="rgb(251, 211, 51)" stroke="rgb(251, 211, 51)"/><polygon points="184.86,64.42 193.86,61.89 197.32,66.35 188.26,68.87" fill="rgb(244, 228, 51)" stroke="rgb(244, 228, 51)"/><polygon points="188.26,68.87 197.32,66.35 200.85,70.96 191.73,73.46" fill="rgb(228, 236, 52)" stroke="rgb(228, 236, 52)"/><polygon points="191.73,73.46 200.85,70.96 204.47,75.7 195.29,78.19" fill="rgb(211, 244, 54)" stroke="rgb(211, 244, 54)"/><polygon points="195.29,78.19 204.47,75.7 208.17,80.59 198.93,83.06" fill="rgb(190, 249, 55)" stroke="rgb(190, 249, 55)"/><polygon points="198.93,83.06 208.17,80.59 211.96,85.62 202.66,88.08" fill="rgb(159, 248, 55)" stroke="rgb(159, 248, 55)"/><polygon points="202.66,88.08 211.96,85.62 215.83,90.8 206.46,93.25" fill="rgb(127, 246, 55)" stroke="rgb(127, 246, 55)"/><polygon points="206.46,93.25 215.83,90.8 219.79,96.14 210.35,98.56" fill="rgb(103, 245, 57)" stroke="rgb(103, 245, 57)"/><polygon points="210.35,98.56 219.79,96.14 223.82,101.62 214.32,104.03" fill="rgb(89, 245, 61)" stroke="rgb(89, 245, 61)"/><polygon points="214.32,104.03 223.82,101.62 227.95,107.26 218.37,109.66" fill="rgb(74, 245, 66)" stroke="rgb(74, 245, 66)"/><polygon points="218.37,109.66 227.95,107.26 232.15,113.06 222.51,115.44" fill="rgb(60, 245, 71)" stroke="rgb(60, 245, 71)"/><polygon points="222.51,115.44 232.15,113.06 236.44,119.03 226.72,121.39" fill="rgb(57, 245, 87)" stroke="rgb(57, 245, 87)"/><polygon points="226.72,121.39 236.44,119.03 240.81,125.15 231.02,127.5" fill="rgb(55, 245, 105)" stroke="rgb(55, 245, 105)"/><polygon points="231.02,127.5 240.81,125.15 245.27,131.44 235.4,133.77" fill="rgb(55, 245, 130)" stroke="rgb(55, 245, 130)"/><polygon points="235.4,133.77 245.27,131.44 249.81,137.91 239.87,140.21" fill="rgb(54, 245, 156)" stroke="rgb(54, 245, 156)"/><polygon points="239.87,140.21 249.81,137.91 254.43,144.54 244.41,146.83" fill="rgb(52, 245, 184)" stroke="rgb(52, 245, 184)"/><polygon points="244.41,146.83 254.43,144.54 259.14,151.35 249.04,153.62" fill="rgb(50, 245, 212)" stroke="rgb(50, 245, 212)"/><polygon points="249.04,153.62 259.14,151.35 263.93,158.33 253.75,160.59" fill="rgb(50, 245, 236)" stroke="rgb(50, 245, 236)"/><polygon points="184.01,49.31 192.81,46.75 196.06,50.82 187.21,53.37" fill="rgb(255, 153, 55)" stroke="rgb(255, 153, 55)"/><polygon points="187.21,53.37 196.06,50.82 199.4,55.03 190.5,57.56" fill="rgb(253, 176, 53)" stroke="rgb(253, 176, 53)"/><polygon points="190.5,57.56 199.4,55.03 202.83,59.37 193.86,61.89" fill="rgb(252, 199, 52)" stroke="rgb(252, 199, 52)"/><polygon points="193.86,61.89 202.83,59.37 206.34,63.85 197.32,66.35" fill="rgb(250, 222, 50)" stroke="rgb(250, 222, 50)"/><polygon points="197.32,66.35 206.34,63.85 209.93,68.46 200.85,70.96" fill="rgb(236, 232, 51)" stroke="rgb(236, 232, 51)"/><polygon points="200.85,70.96 209.93,68.46 213.61,73.22 204.47,75.7" fill="rgb(219, 240, 53)" stroke="rgb(219, 240, 53)"/><polygon points="204.47,75.7 213.61,73.22 217.38,78.12 208.17,80.59" fill="rgb(203, 249, 55)" stroke="rgb(203, 249, 55)"/><polygon points="208.17,80.59 217.38,78.12 221.23,83.17 211.96,85.62" fill="rgb(174, 249, 55)" stroke="rgb(174, 249, 55)"/><polygon points="211.96,85.62 221.23,83.17 225.17,88.37 215.83,90.8" fill="rgb(142, 247, 55)" stroke="rgb(142, 247, 55)"/><polygon points="215.83,90.8 225.17,88.37 229.19,93.72 219.79,96.14" fill="rgb(110, 245, 55)" stroke="rgb(110, 245, 55)"/><polygon points="219.79,96.14 229.19,93.72 233.29,99.22 223.82,101.62" fill="rgb(95, 245, 59)" stroke="rgb(95, 245, 59)"/><polygon points="223.82,101.62 233.29,99.22 237.48,104.88 227.95,107.26" fill="rgb(80, 245, 64)" stroke="rgb(80, 245, 64)"/><polygon points="227.95,107.26 237.48,104.88 241.76,110.7 232.15,113.06" fill="rgb(65, 245, 68)" stroke="rgb(65, 245, 68)"/><polygon points="232.15,113.06 241.76,110.7 246.12,116.67 236.44,119.03" fill="rgb(58, 245, 80)" stroke="rgb(58, 245, 80)"/><polygon points="236.44,119.03 246.12,116.67 250.57,122.82 240.81,125.15" fill="rgb(56, 245, 97)" stroke="rgb(56, 245, 97)"/><polygon points="240.81,125.15 250.57,122.82 255.1,129.13 245.27,131.44" fill="rgb(55, 245, 120)" stroke="rgb(55, 245, 120)"/><polygon points="245.27,131.44 255.1,129.13 259.72,135.61 249.81,137.91" fill="rgb(55, 245, 146)" stroke="rgb(55, 245, 146)"/><polygon points="249.81,137.91 259.72,135.61 264.42,142.26 254.43,144.54" fill="rgb(53, 245, 173)" stroke="rgb(53, 245, 173)"/><polygon points="254.43,144.54 264.42,142.26 269.2,149.08 259.14,151.35" fill="rgb(50, 245, 202)" stroke="rgb(50, 245, 202)"/><polygon points="259.14,151.35 269.2,149.08 274.08,156.09 263.93,158.33" fill="rgb(50, 245, 227)" stroke="rgb(50, 245, 227)"/><polygon points="192.81,46.75 201.58,44.2 204.88,48.29 196.06,50.82" fill="rgb(255, 140, 55)" stroke="rgb(255, 140, 55)"/><polygon points="196.06,50.82 204.88,48.29 208.28,52.5 199.4,55.03" fill="rgb(254, 163, 54)" stroke="rgb(254, 163, 54)"/><polygon points="199.4,55.03 208.28,52.5 211.76,56.86 202.83,59.37" fill="rgb(253, 186, 53)" stroke="rgb(253, 186, 53)"/><polygon points="202.83,59.37 211.76,56.86 215.33,61.35 206.34,63.85" fill="rgb(251, 210, 51)" stroke="rgb(251, 210, 51)"/><polygon points="206.34,63.85 215.33,61.35 218.98,65.98 209.93,68.46" fill="rgb(244, 228, 51)" stroke="rgb(244, 228, 51)"/><polygon points="209.93,68.46 218.98,65.98 222.72,70.75 213.61,73.22" fill="rgb(228, 236, 52)" stroke="rgb(228, 236, 52)"/><polygon points="213.61,73.22 222.72,70.75 226.55,75.67 217.38,78.12" fill="rgb(211, 245, 54)" stroke="rgb(211, 245, 54)"/><polygon points="217.38,78.12 226.55,75.67 230.46,80.73 221.23,83.17" fill="rgb(188, 249, 55)" stroke="rgb(188, 249, 55)"/><polygon points="221.23,83.17 230.46,80.73 234.46,85.94 225.17,88.37" fill="rgb(157, 248, 55)" stroke="rgb(157, 248, 55)"/><polygon points="225.17,88.37 234.46,85.94 238.55,91.31 229.19,93.72" fill="rgb(124, 246, 55)" stroke="rgb(124, 246, 55)"/><polygon points="229.19,93.72 238.55,91.31 242.73,96.83 233.29,99.22" fill="rgb(102, 245, 57)" stroke="rgb(102, 245, 57)"/><polygon points="233.29,99.22 242.73,96.83 246.99,102.5 237.48,104.88" fill="rgb(87, 245, 62)" stroke="rgb(87, 245, 62)"/><polygon points="237.48,104.88 246.99,102.5 251.33,108.33 241.76,110.7" fill="rgb(72, 245, 66)" stroke="rgb(72, 245, 66)"/><polygon points="241.76,110.7 251.33,108.33 255.76,114.33 246.12,116.67" fill="rgb(59, 245, 74)" stroke="rgb(59, 245, 74)"/><polygon points="246.12,116.67 255.76,114.33 260.28,120.49 250.57,122.82" fill="rgb(57, 245, 90)" stroke="rgb(57, 245, 90)"/><polygon points="250.57,122.82 260.28,120.49 264.89,126.82 255.1,129.13" fill="rgb(55, 245, 110)" stroke="rgb(55, 245, 110)"/><polygon points="255.1,129.13 264.89,126.82 269.58,133.31 259.72,135.61" fill="rgb(55, 245, 135)" stroke="rgb(55, 245, 135)"/><polygon points="259.72,135.61 269.58,133.31 274.36,139.98 264.42,142.26" fill="rgb(54, 245, 162)" stroke="rgb(54, 245, 162)"/><polygon points="264.42,142.26 274.36,139.98 279.23,146.83 269.2,149.08" fill="rgb(51, 245, 191)" stroke="rgb(51, 245, 191)"/><polygon points="269.2,149.08 279.23,146.83 284.18,153.85 274.08,156.09" fill="rgb(50, 245, 218)" stroke="rgb(50, 245, 218)"/><polygon points="201.58,44.2 210.31,41.66 213.67,45.76 204.88,48.29" fill="rgb(255, 125, 55)" stroke="rgb(255, 125, 55)"/><polygon points="204.88,48.29 213.67,45.76 217.12,49.99 208.28,52.5" fill="rgb(255, 151, 55)" stroke="rgb(255, 151, 55)"/><polygon points="208.28,52.5 217.12,49.99 220.66,54.35 211.76,56.86" fill="rgb(253, 174, 53)" stroke="rgb(253, 174, 53)"/><polygon points="211.76,56.86 220.66,54.35 224.28,58.86 215.33,61.35" fill="rgb(252, 197, 52)" stroke="rgb(252, 197, 52)"/><polygon points="215.33,61.35 224.28,58.86 228,63.5 218.98,65.98" fill="rgb(250, 222, 50)" stroke="rgb(250, 222, 50)"/><polygon points="218.98,65.98 228,63.5 231.8,68.29 222.72,70.75" fill="rgb(236, 232, 51)" stroke="rgb(236, 232, 51)"/><polygon points="222.72,70.75 231.8,68.29 235.69,73.22 226.55,75.67" fill="rgb(219, 240, 53)" stroke="rgb(219, 240, 53)"/><polygon points="226.55,75.67 235.69,73.22 239.66,78.3 230.46,80.73" fill="rgb(202, 249, 55)" stroke="rgb(202, 249, 55)"/><polygon points="230.46,80.73 239.66,78.3 243.73,83.53 234.46,85.94" fill="rgb(172, 248, 55)" stroke="rgb(172, 248, 55)"/><polygon points="234.46,85.94 243.73,83.53 247.88,88.91 238.55,91.31" fill="rgb(139, 247, 55)" stroke="rgb(139, 247, 55)"/><polygon points="238.55,91.31 247.88,88.91 252.12,94.44 242.73,96.83" fill="rgb(108, 245, 56)" stroke="rgb(108, 245, 56)"/><polygon points="242.73,96.83 252.12,94.44 256.45,100.13 246.99,102.5" fill="rgb(93, 245, 60)" stroke="rgb(93, 245, 60)"/><polygon points="246.99,102.5 256.45,100.13 260.87,105.98 251.33,108.33" fill="rgb(78, 245, 65)" stroke="rgb(78, 245, 65)"/><polygon points="251.33,108.33 260.87,105.98 265.37,112 255.76,114.33" fill="rgb(63, 245, 69)" stroke="rgb(63, 245, 69)"/><polygon points="255.76,114.33 265.37,112 269.96,118.17 260.28,120.49" fill="rgb(58, 245, 83)" stroke="rgb(58, 245, 83)"/><polygon points="260.28,120.49 269.96,118.17 274.64,124.52 264.89,126.82" fill="rgb(55, 245, 100)" stroke="rgb(55, 245, 100)"/><polygon points="264.89,126.82 274.64,124.52 279.41,131.03 269.58,133.31" fill="rgb(55, 245, 125)" stroke="rgb(55, 245, 125)"/><polygon points="269.58,133.31 279.41,131.03 284.27,137.72 274.36,139.98" fill="rgb(55, 245, 151)" stroke="rgb(55, 245, 151)"/><polygon points="274.36,139.98 284.27,137.72 289.21,144.58 279.23,146.83" fill="rgb(52, 245, 180)" stroke="rgb(52, 245, 180)"/><polygon points="279.23,146.83 289.21,144.58 294.24,151.63 284.18,153.85" fill="rgb(50, 245, 209)" stroke="rgb(50, 245, 209)"/><polygon points="210.31,41.66 219.01,39.13 222.42,43.24 213.67,45.76" fill="rgb(255, 111, 56)" stroke="rgb(255, 111, 56)"/><polygon points="213.67,45.76 222.42,43.24 225.93,47.48 217.12,49.99" fill="rgb(255, 137, 55)" stroke="rgb(255, 137, 55)"/><polygon points="217.12,49.99 225.93,47.48 229.52,51.86 220.66,54.35" fill="rgb(254, 162, 54)" stroke="rgb(254, 162, 54)"/><polygon points="220.66,54.35 229.52,51.86 233.2,56.38 224.28,58.86" fill="rgb(253, 185, 53)" stroke="rgb(253, 185, 53)"/><polygon points="224.28,58.86 233.2,56.38 236.97,61.04 228,63.5" fill="rgb(251, 209, 51)" stroke="rgb(251, 209, 51)"/><polygon points="228,63.5 236.97,61.04 240.83,65.84 231.8,68.29" fill="rgb(244, 228, 51)" stroke="rgb(244, 228, 51)"/><polygon points="231.8,68.29 240.83,65.84 244.78,70.79 235.69,73.22" fill="rgb(227, 236, 52)" stroke="rgb(227, 236, 52)"/><polygon points="235.69,73.22 244.78,70.79 248.82,75.88 239.66,78.3" fill="rgb(210, 245, 54)" stroke="rgb(210, 245, 54)"/><polygon points="239.66,78.3 248.82,75.88 252.95,81.12 243.73,83.53" fill="rgb(186, 249, 55)" stroke="rgb(186, 249, 55)"/><polygon points="243.73,83.53 252.95,81.12 257.17,86.52 247.88,88.91" fill="rgb(154, 247, 55)" stroke="rgb(154, 247, 55)"/><polygon points="247.88,88.91 257.17,86.52 261.48,92.07 252.12,94.44" fill="rgb(121, 246, 55)" stroke="rgb(121, 246, 55)"/><polygon points="252.12,94.44 261.48,92.07 265.88,97.77 256.45,100.13" fill="rgb(100, 245, 58)" stroke="rgb(100, 245, 58)"/><polygon points="256.45,100.13 265.88,97.77 270.36,103.64 260.87,105.98" fill="rgb(85, 245, 63)" stroke="rgb(85, 245, 63)"/><polygon points="260.87,105.98 270.36,103.64 274.94,109.67 265.37,112" fill="rgb(69, 245, 67)" stroke="rgb(69, 245, 67)"/><polygon points="265.37,112 274.94,109.67 279.6,115.86 269.96,118.17" fill="rgb(59, 245, 77)" stroke="rgb(59, 245, 77)"/><polygon points="269.96,118.17 279.6,115.86 284.36,122.23 274.64,124.52" fill="rgb(56, 245, 93)" stroke="rgb(56, 245, 93)"/><polygon points="274.64,124.52 284.36,122.23 289.2,128.76 279.41,131.03" fill="rgb(55, 245, 115)" stroke="rgb(55, 245, 115)"/><polygon points="279.41,131.03 289.2,128.76 294.13,135.47 284.27,137.72" fill="rgb(55, 245, 141)" stroke="rgb(55, 245, 141)"/><polygon points="284.27,137.72 294.13,135.47 299.16,142.35 289.21,144.58" fill="rgb(53, 245, 169)" stroke="rgb(53, 245, 169)"/><polygon points="289.21,144.58 299.16,142.35 304.27,149.41 294.24,151.63" fill="rgb(51, 245, 199)" stroke="rgb(51, 245, 199)"/><polygon points="219.01,39.13 227.67,36.61 231.14,40.73 222.42,43.24" fill="rgb(255, 98, 56)" stroke="rgb(255, 98, 56)"/><polygon points="222.42,43.24 231.14,40.73 234.7,44.99 225.93,47.48" fill="rgb(255, 123, 56)" stroke="rgb(255, 123, 56)"/><polygon points="225.93,47.48 234.7,44.99 238.35,49.38 229.52,51.86" fill="rgb(255, 149, 55)" stroke="rgb(255, 149, 55)"/><polygon points="229.52,51.86 238.35,49.38 242.08,53.91 233.2,56.38" fill="rgb(253, 173, 53)" stroke="rgb(253, 173, 53)"/><polygon points="233.2,56.38 242.08,53.91 245.92,58.58 236.97,61.04" fill="rgb(252, 197, 52)" stroke="rgb(252, 197, 52)"/><polygon points="236.97,61.04 245.92,58.58 249.84,63.4 240.83,65.84" fill="rgb(250, 222, 50)" stroke="rgb(250, 222, 50)"/><polygon points="240.83,65.84 249.84,63.4 253.85,68.36 244.78,70.79" fill="rgb(235, 232, 51)" stroke="rgb(235, 232, 51)"/><polygon points="244.78,70.79 253.85,68.36 257.95,73.47 248.82,75.88" fill="rgb(218, 241, 53)" stroke="rgb(218, 241, 53)"/><polygon points="248.82,75.88 257.95,73.47 262.14,78.73 252.95,81.12" fill="rgb(200, 250, 55)" stroke="rgb(200, 250, 55)"/><polygon points="252.95,81.12 262.14,78.73 266.43,84.14 257.17,86.52" fill="rgb(168, 248, 55)" stroke="rgb(168, 248, 55)"/><polygon points="257.17,86.52 266.43,84.14 270.8,89.7 261.48,92.07" fill="rgb(135, 246, 55)" stroke="rgb(135, 246, 55)"/><polygon points="261.48,92.07 270.8,89.7 275.27,95.42 265.88,97.77" fill="rgb(106, 245, 56)" stroke="rgb(106, 245, 56)"/><polygon points="265.88,97.77 275.27,95.42 279.82,101.31 270.36,103.64" fill="rgb(91, 245, 61)" stroke="rgb(91, 245, 61)"/><polygon points="270.36,103.64 279.82,101.31 284.47,107.35 274.94,109.67" fill="rgb(76, 245, 65)" stroke="rgb(76, 245, 65)"/><polygon points="274.94,109.67 284.47,107.35 289.21,113.56 279.6,115.86" fill="rgb(60, 245, 70)" stroke="rgb(60, 245, 70)"/><polygon points="279.6,115.86 289.21,113.56 294.04,119.94 284.36,122.23" fill="rgb(57, 245, 87)" stroke="rgb(57, 245, 87)"/><polygon points="284.36,122.23 294.04,119.94 298.95,126.49 289.2,128.76" fill="rgb(55, 245, 105)" stroke="rgb(55, 245, 105)"/><polygon points="289.2,128.76 298.95,126.49 303.96,133.22 294.13,135.47" fill="rgb(55, 245, 131)" stroke="rgb(55, 245, 131)"/><polygon points="294.13,135.47 303.96,133.22 309.06,140.12 299.16,142.35" fill="rgb(54, 245, 158)" stroke="rgb(54, 245, 158)"/><polygon points="299.16,142.35 309.06,140.12 314.25,147.2 304.27,149.41" fill="rgb(52, 245, 188)" stroke="rgb(52, 245, 188)"/><polygon points="227.67,36.61 236.3,34.1 239.82,38.23 231.14,40.73" fill="rgb(255, 86, 57)" stroke="rgb(255, 86, 57)"/><polygon points="231.14,40.73 239.82,38.23 243.43,42.5 234.7,44.99" fill="rgb(255, 109, 56)" stroke="rgb(255, 109, 56)"/><polygon points="234.7,44.99 243.43,42.5 247.14,46.91 238.35,49.38" fill="rgb(255, 135, 55)" stroke="rgb(255, 135, 55)"/><polygon points="238.35,49.38 247.14,46.91 250.93,51.45 242.08,53.91" fill="rgb(254, 161, 54)" stroke="rgb(254, 161, 54)"/><polygon points="242.08,53.91 250.93,51.45 254.82,56.14 245.92,58.58" fill="rgb(253, 185, 53)" stroke="rgb(253, 185, 53)"/><polygon points="245.92,58.58 254.82,56.14 258.8,60.97 249.84,63.4" fill="rgb(251, 210, 51)" stroke="rgb(251, 210, 51)"/><polygon points="249.84,63.4 258.8,60.97 262.88,65.94 253.85,68.36" fill="rgb(243, 228, 51)" stroke="rgb(243, 228, 51)"/><polygon points="253.85,68.36 262.88,65.94 267.04,71.06 257.95,73.47" fill="rgb(226, 237, 52)" stroke="rgb(226, 237, 52)"/><polygon points="257.95,73.47 267.04,71.06 271.3,76.34 262.14,78.73" fill="rgb(209, 246, 54)" stroke="rgb(209, 246, 54)"/><polygon points="262.14,78.73 271.3,76.34 275.65,81.76 266.43,84.14" fill="rgb(183, 249, 55)" stroke="rgb(183, 249, 55)"/><polygon points="266.43,84.14 275.65,81.76 280.09,87.35 270.8,89.7" fill="rgb(150, 247, 55)" stroke="rgb(150, 247, 55)"/><polygon points="270.8,89.7 280.09,87.35 284.62,93.08 275.27,95.42" fill="rgb(116, 245, 55)" stroke="rgb(116, 245, 55)"/><polygon points="275.27,95.42 284.62,93.08 289.25,98.98 279.82,101.31" fill="rgb(98, 245, 59)" stroke="rgb(98, 245, 59)"/><polygon points="279.82,101.31 289.25,98.98 293.96,105.05 284.47,107.35" fill="rgb(82, 245, 63)" stroke="rgb(82, 245, 63)"/><polygon points="284.47,107.35 293.96,105.05 298.77,111.27 289.21,113.56" fill="rgb(66, 245, 68)" stroke="rgb(66, 245, 68)"/><polygon points="289.21,113.56 298.77,111.27 303.67,117.67 294.04,119.94" fill="rgb(58, 245, 80)" stroke="rgb(58, 245, 80)"/><polygon points="294.04,119.94 303.67,117.67 308.67,124.24 298.95,126.49" fill="rgb(56, 245, 97)" stroke="rgb(56, 245, 97)"/><polygon points="298.95,126.49 308.67,124.24 313.75,130.98 303.96,133.22" fill="rgb(55, 245, 121)" stroke="rgb(55, 245, 121)"/><polygon points="303.96,133.22 313.75,130.98 318.93,137.9 309.06,140.12" fill="rgb(55, 245, 148)" stroke="rgb(55, 245, 148)"/><polygon points="309.06,140.12 318.93,137.9 324.2,145 314.25,147.2" fill="rgb(53, 245, 177)" stroke="rgb(53, 245, 177)"/></g>
<path d="M75.74,80.81 L78.28,84.71 L80.89,88.75 L83.56,92.91 L86.3,97.2 L89.11,101.63 L91.98,106.2 L94.92,110.91 L97.92,115.76 L100.99,120.75 L104.13,125.89 L107.33,131.18 L110.6,136.62 L113.94,142.22 L117.34,147.97 L120.81,153.89 L124.35,159.96 L127.95,166.2 L131.62,172.61 L135.35,179.19 L139.15,185.94 M84.95,78.13 L87.55,82.05 L90.21,86.09 L92.94,90.27 L95.74,94.58 L98.61,99.02 L101.55,103.61 L104.55,108.33 L107.62,113.19 L110.76,118.2 L113.97,123.36 L117.24,128.67 L120.58,134.13 L123.99,139.74 L127.47,145.51 L131.02,151.44 L134.63,157.53 L138.32,163.79 L142.07,170.22 L145.88,176.82 L149.77,183.59 M94.13,75.46 L96.78,79.39 L99.5,83.45 L102.29,87.64 L105.15,91.96 L108.08,96.42 L111.08,101.02 L114.15,105.76 L117.29,110.64 L120.49,115.67 L123.77,120.84 L127.11,126.16 L130.53,131.64 L134.01,137.27 L137.57,143.06 L141.19,149.01 L144.88,155.12 L148.64,161.4 L152.47,167.84 L156.37,174.46 L160.34,181.25 M103.27,72.8 L105.98,76.74 L108.76,80.82 L111.61,85.02 L114.53,89.36 L117.52,93.83 L120.58,98.45 L123.71,103.2 L126.92,108.1 L130.19,113.14 L133.53,118.33 L136.95,123.67 L140.44,129.16 L143.99,134.81 L147.62,140.61 L151.32,146.58 L155.09,152.71 L158.93,159.01 L162.84,165.47 L166.83,172.11 L170.88,178.92 M112.38,70.15 L115.14,74.11 L117.98,78.19 L120.89,82.41 L123.87,86.76 L126.92,91.25 L130.04,95.88 L133.24,100.65 L136.51,105.56 L139.85,110.62 L143.26,115.82 L146.75,121.18 L150.31,126.69 L153.94,132.35 L157.64,138.18 L161.42,144.16 L165.26,150.31 L169.18,156.63 L173.18,163.11 L177.24,169.77 L181.38,176.6 M121.45,67.51 L124.27,71.48 L127.16,75.58 L130.13,79.81 L133.17,84.18 L136.28,88.68 L139.47,93.32 L142.73,98.11 L146.07,103.03 L149.47,108.11 L152.96,113.33 L156.51,118.7 L160.14,124.23 L163.85,129.91 L167.62,135.75 L171.47,141.75 L175.4,147.92 L179.4,154.26 L183.47,160.76 L187.61,167.43 L191.83,174.29 M130.49,64.88 L133.36,68.86 L136.31,72.98 L139.34,77.22 L142.44,81.6 L145.61,86.12 L148.86,90.78 L152.19,95.58 L155.59,100.52 L159.06,105.61 L162.61,110.85 L166.24,116.23 L169.94,121.78 L173.72,127.48 L177.57,133.34 L181.49,139.36 L185.49,145.54 L189.57,151.89 L193.72,158.42 L197.95,165.11 L202.25,171.98 M139.5,62.26 L142.42,66.26 L145.43,70.38 L148.51,74.64 L151.67,79.04 L154.91,83.57 L158.22,88.24 L161.61,93.05 L165.07,98.01 L168.61,103.12 L172.23,108.37 L175.93,113.78 L179.7,119.34 L183.55,125.05 L187.47,130.93 L191.47,136.97 L195.55,143.17 L199.71,149.54 L203.94,156.08 L208.25,162.79 L212.63,169.69 M148.47,59.65 L151.45,63.66 L154.51,67.8 L157.65,72.07 L160.87,76.48 L164.17,81.03 L167.54,85.71 L170.99,90.54 L174.52,95.51 L178.13,100.64 L181.82,105.9 L185.58,111.33 L189.42,116.9 L193.34,122.64 L197.34,128.53 L201.42,134.58 L205.57,140.81 L209.8,147.19 L214.11,153.75 L218.5,160.49 L222.97,167.4 M157.4,57.05 L160.44,61.07 L163.56,65.23 L166.76,69.51 L170.03,73.93 L173.39,78.49 L176.83,83.2 L180.34,88.04 L183.94,93.03 L187.61,98.16 L191.36,103.45 L195.2,108.89 L199.11,114.48 L203.1,120.23 L207.17,126.14 L211.32,132.21 L215.55,138.45 L219.86,144.86 L224.25,151.44 L228.72,158.19 L233.27,165.12 M166.31,54.46 L169.4,58.5 L172.57,62.66 L175.83,66.96 L179.16,71.4 L182.58,75.97 L186.08,80.69 L189.65,85.55 L193.31,90.55 L197.05,95.7 L200.87,101 L204.78,106.46 L208.76,112.07 L212.82,117.83 L216.97,123.76 L221.19,129.85 L225.5,136.11 L229.88,142.53 L234.35,149.13 L238.9,155.9 L243.53,162.85 M175.18,51.88 L178.32,55.93 L181.55,60.11 L184.86,64.42 L188.26,68.87 L191.73,73.46 L195.29,78.19 L198.93,83.06 L202.66,88.08 L206.46,93.25 L210.35,98.56 L214.32,104.03 L218.37,109.66 L222.51,115.44 L226.72,121.39 L231.02,127.5 L235.4,133.77 L239.87,140.21 L244.41,146.83 L249.04,153.62 L253.75,160.59 M184.01,49.31 L187.21,53.37 L190.5,57.56 L193.86,61.89 L197.32,66.35 L200.85,70.96 L204.47,75.7 L208.17,80.59 L211.96,85.62 L215.83,90.8 L219.79,96.14 L223.82,101.62 L227.95,107.26 L232.15,113.06 L236.44,119.03 L240.81,125.15 L245.27,131.44 L249.81,137.91 L254.43,144.54 L259.14,151.35 L263.93,158.33 M192.81,46.75 L196.06,50.82 L199.4,55.03 L202.83,59.37 L206.34,63.85 L209.93,68.46 L213.61,73.22 L217.38,78.12 L221.23,83.17 L225.17,88.37 L229.19,93.72 L233.29,99.22 L237.48,104.88 L241.76,110.7 L246.12,116.67 L250.57,122.82 L255.1,129.13 L259.72,135.61 L264.42,142.26 L269.2,149.08 L274.08,156.09 M201.58,44.2 L204.88,48.29 L208.28,52.5 L211.76,56.86 L215.33,61.35 L218.98,65.98 L222.72,70.75 L226.55,75.67 L230.46,80.73 L234.46,85.94 L238.55,91.31 L242.73,96.83 L246.99,102.5 L251.33,108.33 L255.76,114.33 L260.28,120.49 L264.89,126.82 L269.58,133.31 L274.36,139.98 L279.23,146.83 L284.18,153.85 M210.31,41.66 L213.67,45.76 L217.12,49.99 L220.66,54.35 L224.28,58.86 L228,63.5 L231.8,68.29 L235.69,73.22 L239.66,78.3 L243.73,83.53 L247.88,88.91 L252.12,94.44 L256.45,100.13 L260.87,105.98 L265.37,112 L269.96,118.17 L274.64,124.52 L279.41,131.03 L284.27,137.72 L289.21,144.58 L294.24,151.63 M219.01,39.13 L222.42,43.24 L225.93,47.48 L229.52,51.86 L233.2,56.38 L236.97,61.04 L240.83,65.84 L244.78,70.79 L248.82,75.88 L252.95,81.12 L257.17,86.52 L261.48,92.07 L265.88,97.77 L270.36,103.64 L274.94,109.67 L279.6,115.86 L284.36,122.23 L289.2,128.76 L294.13,135.47 L299.16,142.35 L304.27,149.41 M227.67,36.61 L231.14,40.73 L234.7,44.99 L238.35,49.38 L242.08,53.91 L245.92,58.58 L249.84,63.4 L253.85,68.36 L257.95,73.47 L262.14,78.73 L266.43,84.14 L270.8,89.7 L275.27,95.42 L279.82,101.31 L284.47,107.35 L289.21,113.56 L294.04,119.94 L298.95,126.49 L303.96,133.22 L309.06,140.12 L314.25,147.2 M68.98,87.39 L78.28,84.71 L87.55,82.05 L96.78,79.39 L105.98,76.74 L115.14,74.11 L124.27,71.48 L133.36,68.86 L142.42,66.26 L151.45,63.66 L160.44,61.07 L169.4,58.5 L178.32,55.93 L187.21,53.37 L196.06,50.82 L204.88,48.29 L213.67,45.76 L222.42,43.24 L231.14,40.73 L239.82,38.23 M71.53,91.41 L80.89,88.75 L90.21,86.09 L99.5,83.45 L108.76,80.82 L117.98,78.19 L127.16,75.58 L136.31,72.98 L145.43,70.38 L154.51,67.8 L163.56,65.23 L172.57,62.66 L181.55,60.11 L190.5,57.56 L199.4,55.03 L208.28,52.5 L217.12,49.99 L225.93,47.48 L234.7,44.99 L243.43,42.5 M74.14,95.56 L83.56,92.91 L92.94,90.27 L102.29,87.64 L111.61,85.02 L120.89,82.41 L130.13,79.81 L139.34,77.22 L148.51,74.64 L157.65,72.07 L166.76,69.51 L175.83,66.96 L184.86,64.42 L193.86,61.89 L202.83,59.37 L211.76,56.86 L220.66,54.35 L229.52,51.86 L238.35,49.38 L247.14,46.91 M76.82,99.84 L86.3,97.2 L95.74,94.58 L105.15,91.96 L114.53,89.36 L123.87,86.76 L133.17,84.18 L142.44,81.6 L151.67,79.04 L160.87,76.48 L170.03,73.93 L179.16,71.4 L188.26,68.87 L197.32,66.35 L206.34,63.85 L215.33,61.35 L224.28,58.86 L233.2,56.38 L242.08,53.91 L250.93,51.45 M79.56,104.25 L89.11,101.63 L98.61,99.02 L108.08,96.42 L117.52,93.83 L126.92,91.25 L136.28,88.68 L145.61,86.12 L154.91,83.57 L164.17,81.03 L173.39,78.49 L182.58,75.97 L191.73,73.46 L200.85,70.96 L209.93,68.46 L218.98,65.98 L228,63.5 L236.97,61.04 L245.92,58.58 L254.82,56.14 M82.37,108.81 L91.98,106.2 L101.55,103.61 L111.08,101.02 L120.58,98.45 L130.04,95.88 L139.47,93.32 L148.86,90.78 L158.22,88.24 L167.54,85.71 L176.83,83.2 L186.08,80.69 L195.29,78.19 L204.47,75.7 L213.61,73.22 L222.72,70.75 L231.8,68.29 L240.83,65.84 L249.84,63.4 L258.8,60.97 M85.25,113.5 L94.92,110.91 L104.55,108.33 L114.15,105.76 L123.71,103.2 L133.24,100.65 L142.73,98.11 L152.19,95.58 L161.61,93.05 L170.99,90.54 L180.34,88.04 L189.65,85.55 L198.93,83.06 L208.17,80.59 L217.38,78.12 L226.55,75.67 L235.69,73.22 L244.78,70.79 L253.85,68.36 L262.88,65.94 M88.18,118.33 L97.92,115.76 L107.62,113.19 L117.29,110.64 L126.92,108.1 L136.51,105.56 L146.07,103.03 L155.59,100.52 L165.07,98.01 L174.52,95.51 L183.94,93.03 L193.31,90.55 L202.66,88.08 L211.96,85.62 L221.23,83.17 L230.46,80.73 L239.66,78.3 L248.82,75.88 L257.95,73.47 L267.04,71.06 M91.19,123.31 L100.99,120.75 L110.76,118.2 L120.49,115.67 L130.19,113.14 L139.85,110.62 L149.47,108.11 L159.06,105.61 L168.61,103.12 L178.13,100.64 L187.61,98.16 L197.05,95.7 L206.46,93.25 L215.83,90.8 L225.17,88.37 L234.46,85.94 L243.73,83.53 L252.95,81.12 L262.14,78.73 L271.3,76.34 M94.25,128.43 L104.13,125.89 L113.97,123.36 L123.77,120.84 L133.53,118.33 L143.26,115.82 L152.96,113.33 L162.61,110.85 L172.23,108.37 L181.82,105.9 L191.36,103.45 L200.87,101 L210.35,98.56 L219.79,96.14 L229.19,93.72 L238.55,91.31 L247.88,88.91 L257.17,86.52 L266.43,84.14 L275.65,81.76 M97.39,133.71 L107.33,131.18 L117.24,128.67 L127.11,126.16 L136.95,123.67 L146.75,121.18 L156.51,118.7 L166.24,116.23 L175.93,113.78 L185.58,111.33 L195.2,108.89 L204.78,106.46 L214.32,104.03 L223.82,101.62 L233.29,99.22 L242.73,96.83 L252.12,94.44 L261.48,92.07 L270.8,89.7 L280.09,87.35 M100.58,139.13 L110.6,136.62 L120.58,134.13 L130.53,131.64 L140.44,129.16 L150.31,126.69 L160.14,124.23 L169.94,121.78 L179.7,119.34 L189.42,116.9 L199.11,114.48 L208.76,112.07 L218.37,109.66 L227.95,107.26 L237.48,104.88 L246.99,102.5 L256.45,100.13 L265.88,97.77 L275.27,95.42 L284.62,93.08 M103.85,144.71 L113.94,142.22 L123.99,139.74 L134.01,137.27 L143.99,134.81 L153.94,132.35 L163.85,129.91 L173.72,127.48 L183.55,125.05 L193.34,122.64 L203.1,120.23 L212.82,117.83 L222.51,115.44 L232.15,113.06 L241.76,110.7 L251.33,108.33 L260.87,105.98 L270.36,103.64 L279.82,101.31 L289.25,98.98 M107.17,150.44 L117.34,147.97 L127.47,145.51 L137.57,143.06 L147.62,140.61 L157.64,138.18 L167.62,135.75 L177.57,133.34 L187.47,130.93 L197.34,128.53 L207.17,126.14 L216.97,123.76 L226.72,121.39 L236.44,119.03 L246.12,116.67 L255.76,114.33 L265.37,112 L274.94,109.67 L284.47,107.35 L293.96,105.05 M110.56,156.34 L120.81,153.89 L131.02,151.44 L141.19,149.01 L151.32,146.58 L161.42,144.16 L171.47,141.75 L181.49,139.36 L191.47,136.97 L201.42,134.58 L211.32,132.21 L221.19,129.85 L231.02,127.5 L240.81,125.15 L250.57,122.82 L260.28,120.49 L269.96,118.17 L279.6,115.86 L289.21,113.56 L298.77,111.27 M114.02,162.4 L124.35,159.96 L134.63,157.53 L144.88,155.12 L155.09,152.71 L165.26,150.31 L175.4,147.92 L185.49,145.54 L195.55,143.17 L205.57,140.81 L215.55,138.45 L225.5,136.11 L235.4,133.77 L245.27,131.44 L255.1,129.13 L264.89,126.82 L274.64,124.52 L284.36,122.23 L294.04,119.94 L303.67,117.67 M117.54,168.62 L127.95,166.2 L138.32,163.79 L148.64,161.4 L158.93,159.01 L169.18,156.63 L179.4,154.26 L189.57,151.89 L199.71,149.54 L209.8,147.19 L219.86,144.86 L229.88,142.53 L239.87,140.21 L249.81,137.91 L259.72,135.61 L269.58,133.31 L279.41,131.03 L289.2,128.76 L298.95,126.49 L308.67,124.24 M121.13,175.01 L131.62,172.61 L142.07,170.22 L152.47,167.84 L162.84,165.47 L173.18,163.11 L183.47,160.76 L193.72,158.42 L203.94,156.08 L214.11,153.75 L224.25,151.44 L234.35,149.13 L244.41,146.83 L254.43,144.54 L264.42,142.26 L274.36,139.98 L284.27,137.72 L294.13,135.47 L303.96,133.22 L313.75,130.98 M124.78,181.57 L135.35,179.19 L145.88,176.82 L156.37,174.46 L166.83,172.11 L177.24,169.77 L187.61,167.43 L197.95,165.11 L208.25,162.79 L218.5,160.49 L228.72,158.19 L238.9,155.9 L249.04,153.62 L259.14,151.35 L269.2,149.08 L279.23,146.83 L289.21,144.58 L299.16,142.35 L309.06,140.12 L318.93,137.9" fill="none" stroke="#000" stroke-opacity="0.75" stroke-width="1.0" stroke-linejoin="round"/>
<path d="M66.5,83.5 L75.74,80.81 L84.95,78.13 L94.13,75.46 L103.27,72.8 L112.38,70.15 L121.45,67.51 L130.49,64.88 L139.5,62.26 L148.47,59.65 L157.4,57.05 L166.31,54.46 L175.18,51.88 L184.01,49.31 L192.81,46.75 L201.58,44.2 L210.31,41.66 L219.01,39.13 L227.67,36.61 L236.3,34.1 L236.3,34.1 L239.82,38.23 L243.43,42.5 L247.14,46.91 L250.93,51.45 L254.82,56.14 L258.8,60.97 L262.88,65.94 L267.04,71.06 L271.3,76.34 L275.65,81.76 L280.09,87.35 L284.62,93.08 L289.25,98.98 L293.96,105.05 L298.77,111.27 L303.67,117.67 L308.67,124.24 L313.75,130.98 L318.93,137.9 L324.2,145 L324.2,145 L314.25,147.2 L304.27,149.41 L294.24,151.63 L284.18,153.85 L274.08,156.09 L263.93,158.33 L253.75,160.59 L243.53,162.85 L233.27,165.12 L222.97,167.4 L212.63,169.69 L202.25,171.98 L191.83,174.29 L181.38,176.6 L170.88,178.92 L160.34,181.25 L149.77,183.59 L139.15,185.94 L128.5,188.3 L128.5,188.3 L124.78,181.57 L121.13,175.01 L117.54,168.62 L114.02,162.4 L110.56,156.34 L107.17,150.44 L103.85,144.71 L100.58,139.13 L97.39,133.71 L94.25,128.43 L91.19,123.31 L88.18,118.33 L85.25,113.5 L82.37,108.81 L79.56,104.25 L76.82,99.84 L74.14,95.56 L71.53,91.41 L68.98,87.39 L66.5,83.5 Z" fill="none" stroke="#000" stroke-opacity="0.75" stroke-width="1.0" stroke-linejoin="round"/>
<ellipse cx="65.4" cy="81.9" rx="2.9" ry="3.4" fill="#bb0000" stroke="#3a0000" stroke-width="0.7"/>
<ellipse cx="129" cy="174" rx="2.9" ry="3.4" fill="#bb0000" stroke="#3a0000" stroke-width="0.7"/>
<ellipse cx="188.8" cy="103.2" rx="2.9" ry="3.4" fill="#bb0000" stroke="#3a0000" stroke-width="0.7"/>
<ellipse cx="188.8" cy="99.6" rx="2.9" ry="3.4" fill="#bb0000" stroke="#3a0000" stroke-width="0.7"/>
<ellipse cx="188.8" cy="90.2" rx="2.9" ry="3.4" fill="#bb0000" stroke="#3a0000" stroke-width="0.7"/>
<path d="M313.6,147.3 L323,149.6" stroke="#444" stroke-width="0.8"/>
<ellipse cx="324.6" cy="149.4" rx="3.0" ry="3.5" fill="#f8c0c0" stroke="#3a0000" stroke-width="0.7"/>
<text x="62.3" y="181" font-family="Liberation Sans" font-size="10.2" font-weight="normal" text-anchor="end" fill="#333" stroke="#333" stroke-width="0.22" textLength="5.3" lengthAdjust="spacingAndGlyphs" >2</text>
<text x="62.1" y="156.66" font-family="Liberation Sans" font-size="10.2" font-weight="normal" text-anchor="end" fill="#333" stroke="#333" stroke-width="0.22" textLength="5.3" lengthAdjust="spacingAndGlyphs" >4</text>
<text x="61.9" y="132.31" font-family="Liberation Sans" font-size="10.2" font-weight="normal" text-anchor="end" fill="#333" stroke="#333" stroke-width="0.22" textLength="5.3" lengthAdjust="spacingAndGlyphs" >6</text>
<text x="61.7" y="107.97" font-family="Liberation Sans" font-size="10.2" font-weight="normal" text-anchor="end" fill="#333" stroke="#333" stroke-width="0.22" textLength="5.3" lengthAdjust="spacingAndGlyphs" >8</text>
<text x="61.5" y="83.63" font-family="Liberation Sans" font-size="10.2" font-weight="normal" text-anchor="end" fill="#333" stroke="#333" stroke-width="0.22" textLength="10.0" lengthAdjust="spacingAndGlyphs" >10</text>
<text x="61.3" y="59.29" font-family="Liberation Sans" font-size="10.2" font-weight="normal" text-anchor="end" fill="#333" stroke="#333" stroke-width="0.22" textLength="10.0" lengthAdjust="spacingAndGlyphs" >12</text>
<text x="61.1" y="34.94" font-family="Liberation Sans" font-size="10.2" font-weight="normal" text-anchor="end" fill="#333" stroke="#333" stroke-width="0.22" textLength="10.0" lengthAdjust="spacingAndGlyphs" >14</text>
<text x="60.9" y="10.6" font-family="Liberation Sans" font-size="10.2" font-weight="normal" text-anchor="end" fill="#333" stroke="#333" stroke-width="0.22" textLength="10.0" lengthAdjust="spacingAndGlyphs" >16</text>
<text x="53.7" y="249.0" font-family="Liberation Sans" font-size="10.2" font-weight="normal" text-anchor="start" fill="#333" stroke="#333" stroke-width="0.22" textLength="10.0" lengthAdjust="spacingAndGlyphs" >70</text>
<text x="69.2" y="261.7" font-family="Liberation Sans" font-size="10.2" font-weight="normal" text-anchor="start" fill="#333" stroke="#333" stroke-width="0.22" textLength="10.0" lengthAdjust="spacingAndGlyphs" >60</text>
<text x="84.6" y="273.9" font-family="Liberation Sans" font-size="10.2" font-weight="normal" text-anchor="start" fill="#333" stroke="#333" stroke-width="0.22" textLength="10.0" lengthAdjust="spacingAndGlyphs" >50</text>
<text x="99.6" y="286.1" font-family="Liberation Sans" font-size="10.2" font-weight="normal" text-anchor="start" fill="#333" stroke="#333" stroke-width="0.22" textLength="10.0" lengthAdjust="spacingAndGlyphs" >40</text>
<text x="116" y="298.1" font-family="Liberation Sans" font-size="10.2" font-weight="normal" text-anchor="start" fill="#333" stroke="#333" stroke-width="0.22" textLength="10.0" lengthAdjust="spacingAndGlyphs" >30</text>
<text x="134.6" y="298.8" font-family="Liberation Sans" font-size="10.2" font-weight="normal" text-anchor="start" fill="#333" stroke="#333" stroke-width="0.22" textLength="10.0" lengthAdjust="spacingAndGlyphs" >30</text>
<text x="166" y="295.3" font-family="Liberation Sans" font-size="10.2" font-weight="normal" text-anchor="start" fill="#333" stroke="#333" stroke-width="0.22" textLength="10.0" lengthAdjust="spacingAndGlyphs" >40</text>
<text x="198.9" y="291.6" font-family="Liberation Sans" font-size="10.2" font-weight="normal" text-anchor="start" fill="#333" stroke="#333" stroke-width="0.22" textLength="10.0" lengthAdjust="spacingAndGlyphs" >50</text>
<text x="230.6" y="287.9" font-family="Liberation Sans" font-size="10.2" font-weight="normal" text-anchor="start" fill="#333" stroke="#333" stroke-width="0.22" textLength="10.0" lengthAdjust="spacingAndGlyphs" >60</text>
<text x="263.5" y="283.9" font-family="Liberation Sans" font-size="10.2" font-weight="normal" text-anchor="start" fill="#333" stroke="#333" stroke-width="0.22" textLength="10.0" lengthAdjust="spacingAndGlyphs" >70</text>
<text x="295" y="280" font-family="Liberation Sans" font-size="10.2" font-weight="normal" text-anchor="start" fill="#333" stroke="#333" stroke-width="0.22" textLength="10.0" lengthAdjust="spacingAndGlyphs" >80</text>
<text x="327.8" y="276.4" font-family="Liberation Sans" font-size="10.2" font-weight="normal" text-anchor="start" fill="#333" stroke="#333" stroke-width="0.22" textLength="10.0" lengthAdjust="spacingAndGlyphs" >90</text>
<text x="1.8" y="278.9" font-family="Liberation Sans" font-size="10.2" font-weight="normal" text-anchor="start" fill="#2a2a2a" stroke="#2a2a2a" stroke-width="0.22" textLength="69.3" lengthAdjust="spacingAndGlyphs" >B: temperature (C)</text>
<text x="234.6" y="303.6" font-family="Liberation Sans" font-size="10.2" font-weight="normal" text-anchor="start" fill="#2a2a2a" stroke="#2a2a2a" stroke-width="0.22" textLength="48.8" lengthAdjust="spacingAndGlyphs" >A: time (min)</text>
<text x="0" y="0" font-family="Liberation Sans" font-size="10.2" font-weight="normal" text-anchor="middle" fill="#333" stroke="#333" stroke-width="0.22" textLength="114" lengthAdjust="spacingAndGlyphs" transform="translate(20.6,126.2) rotate(-90)">(% loss of Vitamin C) (%)</text>
<text x="165.8" y="343.3" font-family="Liberation Sans" font-size="12" font-weight="bold" text-anchor="middle" fill="#111" stroke="#111" stroke-width="0.4" >(A)</text>
<rect x="403.8" y="3.8" width="278.6" height="279.4" fill="#fff" stroke="#555" stroke-width="1.3"/>
<path d="M396.8,269.7 H403.8 M396.8,233.7 H403.8 M396.8,197.7 H403.8 M396.8,161.7 H403.8 M396.8,125.7 H403.8 M396.8,89.7 H403.8 M396.8,53.7 H403.8 M396.8,17.7 H403.8 M417.3,283 V290.2 M480.07,283 V290.2 M542.85,283 V290.2 M605.62,283 V290.2 M668.4,283 V290.2" stroke="#555" stroke-width="1.1" fill="none"/>
<text x="394.2" y="272.4" font-family="Liberation Sans" font-size="7.6" font-weight="normal" text-anchor="end" fill="#3a3a3a" stroke="#3a3a3a" stroke-width="0.22" >2</text>
<text x="394.2" y="236.4" font-family="Liberation Sans" font-size="7.6" font-weight="normal" text-anchor="end" fill="#3a3a3a" stroke="#3a3a3a" stroke-width="0.22" >4</text>
<text x="394.2" y="200.4" font-family="Liberation Sans" font-size="7.6" font-weight="normal" text-anchor="end" fill="#3a3a3a" stroke="#3a3a3a" stroke-width="0.22" >6</text>
<text x="394.2" y="164.4" font-family="Liberation Sans" font-size="7.6" font-weight="normal" text-anchor="end" fill="#3a3a3a" stroke="#3a3a3a" stroke-width="0.22" >8</text>
<text x="394.2" y="128.4" font-family="Liberation Sans" font-size="7.6" font-weight="normal" text-anchor="end" fill="#3a3a3a" stroke="#3a3a3a" stroke-width="0.22" >10</text>
<text x="394.2" y="92.4" font-family="Liberation Sans" font-size="7.6" font-weight="normal" text-anchor="end" fill="#3a3a3a" stroke="#3a3a3a" stroke-width="0.22" >12</text>
<text x="394.2" y="56.4" font-family="Liberation Sans" font-size="7.6" font-weight="normal" text-anchor="end" fill="#3a3a3a" stroke="#3a3a3a" stroke-width="0.22" >14</text>
<text x="394.2" y="20.4" font-family="Liberation Sans" font-size="7.6" font-weight="normal" text-anchor="end" fill="#3a3a3a" stroke="#3a3a3a" stroke-width="0.22" >16</text>
<text x="417.3" y="300.2" font-family="Liberation Sans" font-size="7.2" font-weight="normal" text-anchor="middle" fill="#3a3a3a" stroke="#3a3a3a" stroke-width="0.1" >-1.000</text>
<text x="480.07" y="300.2" font-family="Liberation Sans" font-size="7.2" font-weight="normal" text-anchor="middle" fill="#3a3a3a" stroke="#3a3a3a" stroke-width="0.1" >-0.500</text>
<text x="542.85" y="300.2" font-family="Liberation Sans" font-size="7.2" font-weight="normal" text-anchor="middle" fill="#3a3a3a" stroke="#3a3a3a" stroke-width="0.1" >0.000</text>
<text x="605.62" y="300.2" font-family="Liberation Sans" font-size="7.2" font-weight="normal" text-anchor="middle" fill="#3a3a3a" stroke="#3a3a3a" stroke-width="0.1" >0.500</text>
<text x="668.4" y="300.2" font-family="Liberation Sans" font-size="7.2" font-weight="normal" text-anchor="middle" fill="#3a3a3a" stroke="#3a3a3a" stroke-width="0.1" >1.000</text>
<text x="542.5" y="321.5" font-family="Liberation Sans" font-size="9.3" font-weight="normal" text-anchor="middle" fill="#333" stroke="#333" stroke-width="0.22" textLength="194" lengthAdjust="spacingAndGlyphs" >Deviation from Reference Point (Coded Units)</text>
<text x="0" y="0" font-family="Liberation Sans" font-size="9.3" font-weight="normal" text-anchor="middle" fill="#333" stroke="#333" stroke-width="0.22" textLength="105.8" lengthAdjust="spacingAndGlyphs" transform="translate(362.3,141.8) rotate(-90)">(% loss of Vitamin C) (%)</text>
<path d="M417.3,170.2 L668.4,117.4" stroke="#66bb66" stroke-width="1.1"/>
<path d="M417.3,208.6 Q542.85,140.25 668.4,86.1" fill="none" stroke="#6a6af0" stroke-width="1.1"/>
<circle cx="543.1" cy="143.8" r="2.6" fill="#000"/>
<text x="417.4" y="167.5" font-family="Liberation Sans" font-size="9.6" font-weight="normal" text-anchor="start" fill="#45a845" stroke="#45a845" stroke-width="0.22" >A</text>
<text x="417.4" y="205.8" font-family="Liberation Sans" font-size="9.6" font-weight="normal" text-anchor="start" fill="#4848e0" stroke="#4848e0" stroke-width="0.22" >B</text>
<text x="668.6" y="114.9" font-family="Liberation Sans" font-size="9.6" font-weight="normal" text-anchor="end" fill="#45a845" stroke="#45a845" stroke-width="0.22" >A</text>
<text x="668.6" y="83.3" font-family="Liberation Sans" font-size="9.6" font-weight="normal" text-anchor="end" fill="#4848e0" stroke="#4848e0" stroke-width="0.22" >B</text>
<text x="435.2" y="246.8" font-family="Liberation Serif" font-size="11.55" font-weight="bold" text-anchor="start" fill="#111" stroke="#111" stroke-width="0.1" textLength="194.6" lengthAdjust="spacingAndGlyphs" >A: Time for the Ultrasonication process</text>
<text x="435.2" y="267.8" font-family="Liberation Serif" font-size="11.55" font-weight="bold" text-anchor="start" fill="#111" stroke="#111" stroke-width="0.1" textLength="232.7" lengthAdjust="spacingAndGlyphs" >B: Temperature for the Ultrasonication process</text>
<text x="527.5" y="343" font-family="Liberation Sans" font-size="12" font-weight="bold" text-anchor="middle" fill="#111" stroke="#111" stroke-width="0.4" >(B)</text>
</svg>
</body></html>
